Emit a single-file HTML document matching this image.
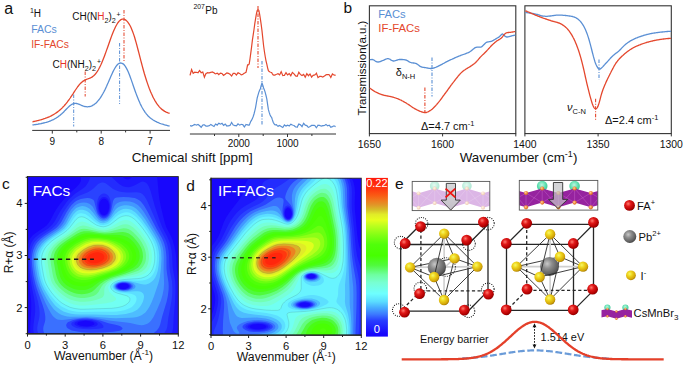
<!DOCTYPE html>
<html><head><meta charset="utf-8"><style>
html,body{margin:0;padding:0;background:#fff;width:685px;height:365px;overflow:hidden}
svg{display:block;font-family:"Liberation Sans", sans-serif}
</style></head><body>
<svg width="685" height="365" viewBox="0 0 685 365">
<text x="4.2" y="13.6" font-size="16" fill="#111" text-anchor="start" >a</text>
<text x="30.0" y="12.6" font-size="7" fill="#111" text-anchor="start" >1</text>
<text x="33.7" y="17.0" font-size="10.0" fill="#111" text-anchor="start" >H</text>
<text x="31.2" y="32.6" font-size="10.5" fill="#5a8fd4" text-anchor="start" >FACs</text>
<text x="31.2" y="48.0" font-size="10.3" fill="#e4472d" text-anchor="start" >IF-FACs</text>
<text x="72.2" y="20.4" font-size="10" fill="#111">CH(N<tspan fill="#e8322a">H</tspan><tspan font-size="7.2" dy="3">2</tspan><tspan dy="-3">)</tspan><tspan font-size="7.2" dy="3">2</tspan><tspan font-size="6.8" dx="0.8" dy="-6.4">+</tspan></text>
<text x="52.5" y="67.8" font-size="10" fill="#111">C<tspan fill="#e8322a">H</tspan>(NH<tspan font-size="7.2" dy="3">2</tspan><tspan dy="-3">)</tspan><tspan font-size="7.2" dy="3">2</tspan><tspan font-size="6.8" dx="0.8" dy="-6.4">+</tspan></text>
<path d="M32.4,124.9 L33.1,124.9 L33.8,124.8 L34.5,124.7 L35.2,124.6 L35.9,124.5 L36.6,124.4 L37.3,124.3 L38.0,124.2 L38.7,124.0 L39.4,123.9 L40.1,123.8 L40.8,123.7 L41.5,123.5 L42.2,123.4 L42.9,123.2 L43.6,123.0 L44.3,122.9 L45.0,122.7 L45.7,122.5 L46.4,122.3 L47.1,122.1 L47.8,121.9 L48.5,121.6 L49.2,121.4 L49.9,121.1 L50.6,120.8 L51.3,120.5 L52.0,120.2 L52.7,119.9 L53.4,119.6 L54.1,119.2 L54.8,118.8 L55.5,118.4 L56.2,118.0 L56.9,117.5 L57.6,117.1 L58.3,116.6 L59.0,116.0 L59.7,115.5 L60.4,114.9 L61.1,114.3 L61.8,113.7 L62.5,113.0 L63.2,112.4 L63.9,111.7 L64.6,110.9 L65.3,110.2 L66.0,109.5 L66.7,108.8 L67.4,108.1 L68.1,107.4 L68.8,106.7 L69.5,106.1 L70.2,105.5 L70.9,105.0 L71.6,104.5 L72.3,104.1 L73.0,103.8 L73.7,103.6 L74.4,103.5 L75.1,103.4 L75.8,103.4 L76.5,103.5 L77.2,103.7 L77.9,103.9 L78.6,104.1 L79.3,104.4 L80.0,104.7 L80.7,105.0 L81.4,105.3 L82.1,105.6 L82.8,105.9 L83.5,106.1 L84.2,106.3 L84.9,106.5 L85.6,106.6 L86.3,106.7 L87.0,106.8 L87.7,106.8 L88.4,106.7 L89.1,106.6 L89.8,106.5 L90.5,106.3 L91.2,106.1 L91.9,105.8 L92.6,105.4 L93.3,105.0 L94.0,104.6 L94.7,104.1 L95.4,103.5 L96.1,102.9 L96.8,102.2 L97.5,101.4 L98.2,100.6 L98.9,99.8 L99.6,98.9 L100.3,97.9 L101.0,96.8 L101.7,95.7 L102.4,94.5 L103.1,93.3 L103.8,92.0 L104.5,90.6 L105.2,89.2 L105.9,87.7 L106.6,86.2 L107.3,84.6 L108.0,83.1 L108.7,81.4 L109.4,79.8 L110.1,78.2 L110.8,76.6 L111.5,75.0 L112.2,73.4 L112.9,71.9 L113.6,70.5 L114.3,69.2 L115.0,68.0 L115.7,66.9 L116.4,65.9 L117.1,65.0 L117.8,64.3 L118.5,63.8 L119.2,63.4 L119.9,63.1 L120.6,63.0 L121.3,63.1 L122.0,63.3 L122.7,63.6 L123.4,64.1 L124.1,64.8 L124.8,65.7 L125.5,66.6 L126.2,67.8 L126.9,69.1 L127.6,70.5 L128.3,72.1 L129.0,73.8 L129.7,75.6 L130.4,77.5 L131.1,79.4 L131.8,81.4 L132.5,83.4 L133.2,85.5 L133.9,87.5 L134.6,89.5 L135.3,91.5 L136.0,93.4 L136.7,95.3 L137.4,97.1 L138.1,98.8 L138.8,100.5 L139.5,102.1 L140.2,103.7 L140.9,105.1 L141.6,106.5 L142.3,107.8 L143.0,109.0 L143.7,110.2 L144.4,111.2 L145.1,112.3 L145.8,113.2 L146.5,114.1 L147.2,114.9 L147.9,115.7 L148.6,116.4 L149.3,117.0 L150.0,117.7 L150.7,118.2 L151.4,118.8 L152.1,119.3 L152.8,119.8 L153.5,120.2 L154.2,120.6 L154.9,121.0 L155.6,121.4 L156.3,121.7 L157.0,122.1 L157.7,122.4 L158.4,122.7 L159.1,123.0 L159.8,123.3 L160.5,123.5 L161.2,123.8 L161.9,124.0 L162.6,124.2 L163.3,124.4 L164.0,124.7 L164.7,124.9 L165.4,125.1 L166.1,125.2 L166.8,125.4 L167.5,125.6 L168.2,125.8 L168.9,125.9 L169.6,126.1" fill="none" stroke="#5a8fd4" stroke-width="1.3"/>
<path d="M32.4,121.8 L33.1,121.7 L33.8,121.5 L34.5,121.4 L35.2,121.2 L35.9,121.1 L36.6,120.9 L37.3,120.7 L38.0,120.6 L38.7,120.4 L39.4,120.2 L40.1,120.0 L40.8,119.8 L41.5,119.6 L42.2,119.4 L42.9,119.2 L43.6,118.9 L44.3,118.7 L45.0,118.5 L45.7,118.2 L46.4,117.9 L47.1,117.7 L47.8,117.4 L48.5,117.1 L49.2,116.8 L49.9,116.5 L50.6,116.1 L51.3,115.8 L52.0,115.4 L52.7,115.0 L53.4,114.6 L54.1,114.2 L54.8,113.8 L55.5,113.3 L56.2,112.9 L56.9,112.4 L57.6,111.9 L58.3,111.3 L59.0,110.8 L59.7,110.2 L60.4,109.6 L61.1,108.9 L61.8,108.3 L62.5,107.6 L63.2,106.8 L63.9,106.1 L64.6,105.3 L65.3,104.5 L66.0,103.7 L66.7,102.8 L67.4,101.9 L68.1,100.9 L68.8,100.0 L69.5,99.0 L70.2,98.0 L70.9,96.9 L71.6,95.9 L72.3,94.8 L73.0,93.8 L73.7,92.7 L74.4,91.6 L75.1,90.5 L75.8,89.5 L76.5,88.5 L77.2,87.5 L77.9,86.5 L78.6,85.6 L79.3,84.7 L80.0,83.9 L80.7,83.2 L81.4,82.5 L82.1,81.9 L82.8,81.4 L83.5,80.9 L84.2,80.5 L84.9,80.1 L85.6,79.8 L86.3,79.5 L87.0,79.2 L87.7,79.0 L88.4,78.7 L89.1,78.5 L89.8,78.2 L90.5,77.9 L91.2,77.5 L91.9,77.1 L92.6,76.6 L93.3,76.1 L94.0,75.5 L94.7,74.8 L95.4,74.0 L96.1,73.1 L96.8,72.2 L97.5,71.1 L98.2,70.0 L98.9,68.7 L99.6,67.4 L100.3,66.0 L101.0,64.5 L101.7,62.9 L102.4,61.2 L103.1,59.5 L103.8,57.7 L104.5,55.9 L105.2,54.0 L105.9,52.1 L106.6,50.1 L107.3,48.2 L108.0,46.2 L108.7,44.2 L109.4,42.2 L110.1,40.2 L110.8,38.3 L111.5,36.4 L112.2,34.6 L112.9,32.8 L113.6,31.1 L114.3,29.5 L115.0,28.0 L115.7,26.5 L116.4,25.2 L117.1,24.0 L117.8,22.9 L118.5,22.0 L119.2,21.1 L119.9,20.5 L120.6,19.9 L121.3,19.5 L122.0,19.2 L122.7,19.1 L123.4,19.1 L124.1,19.2 L124.8,19.5 L125.5,19.9 L126.2,20.5 L126.9,21.1 L127.6,21.9 L128.3,22.8 L129.0,23.8 L129.7,25.0 L130.4,26.3 L131.1,27.8 L131.8,29.4 L132.5,31.2 L133.2,33.1 L133.9,35.1 L134.6,37.3 L135.3,39.7 L136.0,42.1 L136.7,44.7 L137.4,47.3 L138.1,50.0 L138.8,52.7 L139.5,55.4 L140.2,58.1 L140.9,60.9 L141.6,63.5 L142.3,66.2 L143.0,68.7 L143.7,71.2 L144.4,73.7 L145.1,76.0 L145.8,78.3 L146.5,80.5 L147.2,82.6 L147.9,84.6 L148.6,86.6 L149.3,88.5 L150.0,90.2 L150.7,92.0 L151.4,93.6 L152.1,95.1 L152.8,96.6 L153.5,98.0 L154.2,99.3 L154.9,100.6 L155.6,101.7 L156.3,102.8 L157.0,103.9 L157.7,104.8 L158.4,105.7 L159.1,106.6 L159.8,107.4 L160.5,108.1 L161.2,108.7 L161.9,109.4 L162.6,109.9 L163.3,110.4 L164.0,110.9 L164.7,111.4 L165.4,111.7 L166.1,112.1 L166.8,112.4 L167.5,112.7 L168.2,113.0 L168.9,113.2 L169.6,113.4" fill="none" stroke="#e4472d" stroke-width="1.3"/>
<line x1="73.7" y1="94.5" x2="73.7" y2="126.5" stroke="#5a8fd4" stroke-width="1" stroke-dasharray="3.5,1.5,1,1.5"/>
<line x1="119.6" y1="43" x2="119.6" y2="104" stroke="#5a8fd4" stroke-width="1" stroke-dasharray="3.5,1.5,1,1.5"/>
<line x1="85.2" y1="71.5" x2="85.2" y2="96.4" stroke="#e4472d" stroke-width="1.2" opacity="0.85" stroke-dasharray="3.5,1.5,1,1.5"/>
<line x1="124.0" y1="10" x2="124.0" y2="62" stroke="#e4472d" stroke-width="1.2" opacity="0.85" stroke-dasharray="3.5,1.5,1,1.5"/>
<line x1="32.2" y1="130.4" x2="170" y2="130.4" stroke="#333" stroke-width="1"/>
<line x1="52.3" y1="130.4" x2="52.3" y2="133.6" stroke="#333" stroke-width="1"/>
<text x="52.3" y="144.6" font-size="10" fill="#111" text-anchor="middle" >9</text>
<line x1="76.8" y1="130.4" x2="76.8" y2="132.4" stroke="#333" stroke-width="1"/>
<line x1="101.2" y1="130.4" x2="101.2" y2="133.6" stroke="#333" stroke-width="1"/>
<text x="101.2" y="144.6" font-size="10" fill="#111" text-anchor="middle" >8</text>
<line x1="125.6" y1="130.4" x2="125.6" y2="132.4" stroke="#333" stroke-width="1"/>
<line x1="150.1" y1="130.4" x2="150.1" y2="133.6" stroke="#333" stroke-width="1"/>
<text x="150.1" y="144.6" font-size="10" fill="#111" text-anchor="middle" >7</text>
<text x="193.4" y="9.4" font-size="6.8" fill="#111" text-anchor="start" >207</text>
<text x="205.3" y="14.2" font-size="10" fill="#111" text-anchor="start" >Pb</text>
<path d="M190.0,75.4 L190.8,72.5 L191.6,69.6 L192.4,71.5 L193.2,73.4 L194.0,72.8 L194.8,72.2 L195.6,72.3 L196.4,72.4 L197.2,72.5 L198.0,72.7 L198.8,71.6 L199.6,70.5 L200.4,71.6 L201.2,72.7 L202.0,72.4 L202.8,72.0 L203.6,74.6 L204.4,77.2 L205.2,75.3 L206.0,73.4 L206.8,73.1 L207.6,72.7 L208.4,72.8 L209.2,72.8 L210.0,72.6 L210.8,72.4 L211.6,72.2 L212.4,71.9 L213.2,72.4 L214.0,72.8 L214.8,73.4 L215.6,73.9 L216.4,73.5 L217.2,73.1 L218.0,73.8 L218.8,74.6 L219.6,73.9 L220.4,73.2 L221.2,73.3 L222.0,73.5 L222.8,74.5 L223.6,75.4 L224.4,74.8 L225.2,74.2 L226.0,73.6 L226.8,72.9 L227.6,73.1 L228.4,73.4 L229.2,73.8 L230.0,74.3 L230.8,75.2 L231.6,76.1 L232.4,74.7 L233.2,73.4 L234.0,73.4 L234.8,73.4 L235.6,74.2 L236.4,75.0 L237.2,73.8 L238.0,72.7 L238.8,73.1 L239.6,73.4 L240.4,74.1 L241.2,74.8 L242.0,74.6 L242.8,74.3 L243.6,73.7 L244.4,73.1 L245.2,72.8 L246.0,72.3 L246.8,68.8 L247.6,64.8 L248.4,64.8 L249.2,64.0 L250.0,58.8 L250.8,52.8 L251.6,46.8 L252.4,40.1 L253.2,34.8 L254.0,29.5 L254.8,23.6 L255.6,18.6 L256.4,13.8 L257.2,10.6 L258.0,9.6 L258.8,10.3 L259.6,14.0 L260.4,19.1 L261.2,24.6 L262.0,30.9 L262.8,38.4 L263.6,45.8 L264.4,51.5 L265.2,56.5 L266.0,60.8 L266.8,64.2 L267.6,67.8 L268.4,70.7 L269.2,71.6 L270.0,72.0 L270.8,72.3 L271.6,72.5 L272.4,73.8 L273.2,74.9 L274.0,75.1 L274.8,75.2 L275.6,74.7 L276.4,74.3 L277.2,74.0 L278.0,73.6 L278.8,74.3 L279.6,74.9 L280.4,73.2 L281.2,71.6 L282.0,73.6 L282.8,75.6 L283.6,75.5 L284.4,75.4 L285.2,74.0 L286.0,72.7 L286.8,73.8 L287.6,74.9 L288.4,74.3 L289.2,73.6 L290.0,74.7 L290.8,75.8 L291.6,74.1 L292.4,72.4 L293.2,73.1 L294.0,73.8 L294.8,74.8 L295.6,75.9 L296.4,76.2 L297.2,76.4 L298.0,74.4 L298.8,72.3 L299.6,73.4 L300.4,74.4 L301.2,75.0 L302.0,75.5 L302.8,74.9 L303.6,74.4 L304.4,75.8 L305.2,77.2 L306.0,75.4 L306.8,73.7 L307.6,74.7 L308.4,75.7 L309.2,74.8 L310.0,74.0 L310.8,75.5 L311.6,77.1 L312.4,76.2 L313.2,75.3 L314.0,75.1 L314.8,74.9 L315.6,74.1 L316.4,73.2 L317.2,75.4 L318.0,77.5 L318.8,77.0 L319.6,76.4 L320.4,76.4 L321.2,76.4 L322.0,76.7 L322.8,77.0 L323.6,76.5 L324.4,76.0 L325.2,75.4 L326.0,74.8 L326.8,74.7 L327.6,74.6 L328.4,74.6 L329.2,74.7 L330.0,76.0 L330.8,77.4 L331.6,75.7 L332.4,73.9 L333.2,74.5 L334.0,75.0 L334.8,75.2 L335.6,75.4" fill="none" stroke="#e4472d" stroke-width="1.2"/>
<path d="M190.0,125.6 L190.8,125.8 L191.6,126.0 L192.4,125.6 L193.2,125.3 L194.0,124.9 L194.8,124.5 L195.6,124.8 L196.4,125.0 L197.2,124.7 L198.0,124.4 L198.8,125.0 L199.6,125.7 L200.4,126.5 L201.2,127.3 L202.0,126.1 L202.8,125.0 L203.6,124.9 L204.4,124.8 L205.2,125.5 L206.0,126.2 L206.8,126.2 L207.6,126.1 L208.4,125.9 L209.2,125.8 L210.0,125.1 L210.8,124.5 L211.6,125.0 L212.4,125.6 L213.2,126.0 L214.0,126.5 L214.8,125.2 L215.6,124.0 L216.4,124.5 L217.2,125.1 L218.0,124.2 L218.8,123.3 L219.6,123.6 L220.4,124.0 L221.2,123.7 L222.0,123.3 L222.8,124.3 L223.6,125.4 L224.4,124.7 L225.2,124.1 L226.0,125.0 L226.8,126.0 L227.6,125.9 L228.4,125.8 L229.2,125.6 L230.0,125.4 L230.8,124.0 L231.6,122.5 L232.4,123.7 L233.2,125.0 L234.0,125.3 L234.8,125.6 L235.6,125.7 L236.4,125.8 L237.2,124.8 L238.0,123.8 L238.8,124.4 L239.6,125.1 L240.4,124.8 L241.2,124.4 L242.0,124.5 L242.8,124.6 L243.6,125.8 L244.4,126.9 L245.2,125.7 L246.0,124.4 L246.8,124.7 L247.6,124.9 L248.4,125.1 L249.2,125.1 L250.0,123.3 L250.8,121.3 L251.6,120.2 L252.4,118.6 L253.2,116.5 L254.0,114.0 L254.8,110.8 L255.6,107.3 L256.4,102.7 L257.2,98.0 L258.0,95.1 L258.8,92.4 L259.6,90.2 L260.4,88.7 L261.2,85.4 L262.0,83.1 L262.8,85.1 L263.6,88.0 L264.4,89.9 L265.2,92.4 L266.0,95.5 L266.8,98.8 L267.6,104.3 L268.4,109.7 L269.2,112.4 L270.0,114.8 L270.8,116.3 L271.6,117.3 L272.4,119.9 L273.2,122.2 L274.0,123.6 L274.8,124.7 L275.6,124.8 L276.4,124.7 L277.2,125.6 L278.0,126.3 L278.8,125.9 L279.6,125.5 L280.4,126.0 L281.2,126.5 L282.0,127.0 L282.8,127.5 L283.6,126.2 L284.4,124.9 L285.2,125.4 L286.0,126.0 L286.8,125.6 L287.6,125.2 L288.4,125.5 L289.2,125.9 L290.0,125.1 L290.8,124.3 L291.6,124.6 L292.4,125.0 L293.2,125.3 L294.0,125.5 L294.8,126.2 L295.6,126.9 L296.4,127.0 L297.2,127.2 L298.0,125.6 L298.8,124.1 L299.6,124.4 L300.4,124.8 L301.2,125.7 L302.0,126.6 L302.8,124.9 L303.6,123.3 L304.4,124.2 L305.2,125.2 L306.0,125.4 L306.8,125.6 L307.6,126.5 L308.4,127.3 L309.2,127.0 L310.0,126.6 L310.8,126.0 L311.6,125.4 L312.4,125.3 L313.2,125.3 L314.0,125.4 L314.8,125.5 L315.6,126.6 L316.4,127.7 L317.2,126.5 L318.0,125.2 L318.8,125.3 L319.6,125.4 L320.4,125.8 L321.2,126.2 L322.0,125.9 L322.8,125.6 L323.6,125.6 L324.4,125.5 L325.2,125.0 L326.0,124.4 L326.8,125.1 L327.6,125.8 L328.4,125.5 L329.2,125.2 L330.0,126.2 L330.8,127.3 L331.6,126.9 L332.4,126.6 L333.2,126.2 L334.0,125.8 L334.8,126.2 L335.6,126.6" fill="none" stroke="#5a8fd4" stroke-width="1.2"/>
<line x1="258" y1="6" x2="258" y2="68" stroke="#e4472d" stroke-width="1.1" stroke-dasharray="3.5,1.5,1,1.5"/>
<line x1="262" y1="61" x2="262" y2="125" stroke="#5a8fd4" stroke-width="1.1" stroke-dasharray="3.5,1.5,1,1.5"/>
<line x1="189.9" y1="134" x2="336" y2="134" stroke="#333" stroke-width="1"/>
<line x1="214.5" y1="134" x2="214.5" y2="136" stroke="#333" stroke-width="1"/>
<line x1="238.8" y1="134" x2="238.8" y2="137" stroke="#333" stroke-width="1"/>
<text x="238.8" y="147.3" font-size="10" fill="#111" text-anchor="middle" >2000</text>
<line x1="263.2" y1="134" x2="263.2" y2="136" stroke="#333" stroke-width="1"/>
<line x1="287.5" y1="134" x2="287.5" y2="137" stroke="#333" stroke-width="1"/>
<text x="287.5" y="147.3" font-size="10" fill="#111" text-anchor="middle" >1000</text>
<line x1="311.9" y1="134" x2="311.9" y2="136" stroke="#333" stroke-width="1"/>
<text x="131.8" y="162.3" font-size="13.4" fill="#111" textLength="121" lengthAdjust="spacingAndGlyphs">Chemical shift [ppm]</text>
<text x="343.6" y="13.3" font-size="15.5" fill="#111" text-anchor="start" >b</text>
<rect x="369.4" y="5.8" width="146.4" height="127.8" fill="none" stroke="#333" stroke-width="1.1"/>
<rect x="524.9" y="5.8" width="146.4" height="127.8" fill="none" stroke="#333" stroke-width="1.1"/>
<text x="378.3" y="18.1" font-size="10.9" fill="#5a8fd4" textLength="27.4" lengthAdjust="spacingAndGlyphs">FACs</text>
<text x="378.3" y="32.0" font-size="10.9" fill="#e4472d" textLength="41.6" lengthAdjust="spacingAndGlyphs">IF-FACs</text>
<text transform="translate(365.6,68.0) rotate(-90)" font-size="11.5" fill="#111" text-anchor="middle">Transmission(a.u.)</text>
<path d="M369.8,59.8 L370.3,59.7 L370.8,59.6 L371.3,59.6 L371.8,59.5 L372.3,59.5 L372.8,59.6 L373.3,59.8 L373.8,60.0 L374.3,60.3 L374.8,60.7 L375.3,61.0 L375.8,61.4 L376.3,61.6 L376.8,61.8 L377.3,61.9 L377.8,62.0 L378.3,62.0 L378.8,61.9 L379.3,61.8 L379.8,61.6 L380.3,61.5 L380.8,61.3 L381.3,61.1 L381.8,60.9 L382.3,60.7 L382.8,60.5 L383.3,60.3 L383.8,60.1 L384.3,59.9 L384.8,59.6 L385.3,59.4 L385.8,59.2 L386.3,59.0 L386.8,58.8 L387.3,58.7 L387.8,58.7 L388.3,58.7 L388.8,58.8 L389.3,59.0 L389.8,59.2 L390.3,59.5 L390.8,59.9 L391.3,60.2 L391.8,60.5 L392.3,60.7 L392.8,60.9 L393.3,61.0 L393.8,61.0 L394.3,60.9 L394.8,60.8 L395.3,60.7 L395.8,60.5 L396.3,60.3 L396.8,60.1 L397.3,60.0 L397.8,59.8 L398.3,59.7 L398.8,59.6 L399.3,59.5 L399.8,59.5 L400.3,59.5 L400.8,59.5 L401.3,59.5 L401.8,59.5 L402.3,59.5 L402.8,59.6 L403.3,59.6 L403.8,59.7 L404.3,59.7 L404.8,59.8 L405.3,59.9 L405.8,60.0 L406.3,60.2 L406.8,60.4 L407.3,60.7 L407.8,60.9 L408.3,61.2 L408.8,61.6 L409.3,61.8 L409.8,62.1 L410.3,62.3 L410.8,62.5 L411.3,62.7 L411.8,62.8 L412.3,62.9 L412.8,62.9 L413.3,63.0 L413.8,63.0 L414.3,63.1 L414.8,63.2 L415.3,63.3 L415.8,63.4 L416.3,63.6 L416.8,63.9 L417.3,64.2 L417.8,64.5 L418.3,64.9 L418.8,65.3 L419.3,65.7 L419.8,66.1 L420.3,66.4 L420.8,66.7 L421.3,66.9 L421.8,67.1 L422.3,67.2 L422.8,67.3 L423.3,67.3 L423.8,67.4 L424.3,67.5 L424.8,67.6 L425.3,67.6 L425.8,67.7 L426.3,67.8 L426.8,67.9 L427.3,68.0 L427.8,68.1 L428.3,68.2 L428.8,68.3 L429.3,68.4 L429.8,68.4 L430.3,68.5 L430.8,68.5 L431.3,68.5 L431.8,68.5 L432.3,68.4 L432.8,68.3 L433.3,68.2 L433.8,68.0 L434.3,67.9 L434.8,67.7 L435.3,67.5 L435.8,67.3 L436.3,67.0 L436.8,66.8 L437.3,66.6 L437.8,66.4 L438.3,66.1 L438.8,65.9 L439.3,65.7 L439.8,65.4 L440.3,65.2 L440.8,64.9 L441.3,64.6 L441.8,64.4 L442.3,64.1 L442.8,63.8 L443.3,63.5 L443.8,63.3 L444.3,63.0 L444.8,62.7 L445.3,62.4 L445.8,62.2 L446.3,61.9 L446.8,61.7 L447.3,61.4 L447.8,61.2 L448.3,60.9 L448.8,60.7 L449.3,60.4 L449.8,60.2 L450.3,60.0 L450.8,59.7 L451.3,59.5 L451.8,59.3 L452.3,59.0 L452.8,58.8 L453.3,58.6 L453.8,58.4 L454.3,58.1 L454.8,57.9 L455.3,57.7 L455.8,57.5 L456.3,57.2 L456.8,57.0 L457.3,56.8 L457.8,56.6 L458.3,56.4 L458.8,56.2 L459.3,56.0 L459.8,55.8 L460.3,55.6 L460.8,55.4 L461.3,55.2 L461.8,55.0 L462.3,54.8 L462.8,54.7 L463.3,54.5 L463.8,54.3 L464.3,54.2 L464.8,54.0 L465.3,53.8 L465.8,53.6 L466.3,53.4 L466.8,53.2 L467.3,53.0 L467.8,52.8 L468.3,52.6 L468.8,52.4 L469.3,52.1 L469.8,51.8 L470.3,51.5 L470.8,51.1 L471.3,50.8 L471.8,50.3 L472.3,49.9 L472.8,49.5 L473.3,49.1 L473.8,48.7 L474.3,48.3 L474.8,47.9 L475.3,47.7 L475.8,47.4 L476.3,47.3 L476.8,47.2 L477.3,47.1 L477.8,47.1 L478.3,47.2 L478.8,47.2 L479.3,47.2 L479.8,47.2 L480.3,47.2 L480.8,47.1 L481.3,46.9 L481.8,46.6 L482.3,46.2 L482.8,45.8 L483.3,45.2 L483.8,44.7 L484.3,44.2 L484.8,43.7 L485.3,43.2 L485.8,42.8 L486.3,42.5 L486.8,42.2 L487.3,42.1 L487.8,41.9 L488.3,41.9 L488.8,41.8 L489.3,41.7 L489.8,41.6 L490.3,41.6 L490.8,41.4 L491.3,41.3 L491.8,41.1 L492.3,40.9 L492.8,40.6 L493.3,40.4 L493.8,40.1 L494.3,39.8 L494.8,39.5 L495.3,39.2 L495.8,38.9 L496.3,38.6 L496.8,38.3 L497.3,38.0 L497.8,37.7 L498.3,37.4 L498.8,37.1 L499.3,36.7 L499.8,36.3 L500.3,35.8 L500.8,35.2 L501.3,34.7 L501.8,34.3 L502.3,34.0 L502.8,34.1 L503.3,34.4 L503.8,34.9 L504.3,35.4 L504.8,36.0 L505.3,36.4 L505.8,36.7 L506.3,36.9 L506.8,37.0 L507.3,37.0 L507.8,36.9 L508.3,36.8 L508.8,36.7 L509.3,36.6 L509.8,36.4 L510.3,36.3 L510.8,36.1 L511.3,36.0 L511.8,35.9 L512.3,35.7 L512.8,35.6 L513.3,35.5 L513.8,35.4 L514.3,35.3 L514.8,35.2 L515.3,35.1" fill="none" stroke="#5a8fd4" stroke-width="1.3"/>
<path d="M369.6,88.2 L370.1,88.4 L370.6,88.7 L371.1,89.0 L371.6,89.4 L372.1,89.7 L372.6,90.1 L373.1,90.4 L373.6,90.8 L374.1,91.1 L374.6,91.4 L375.1,91.7 L375.6,92.0 L376.1,92.2 L376.6,92.5 L377.1,92.7 L377.6,92.9 L378.1,93.2 L378.6,93.4 L379.1,93.6 L379.6,93.8 L380.1,94.0 L380.6,94.2 L381.1,94.4 L381.6,94.6 L382.1,94.7 L382.6,94.9 L383.1,95.0 L383.6,95.2 L384.1,95.3 L384.6,95.4 L385.1,95.5 L385.6,95.6 L386.1,95.7 L386.6,95.8 L387.1,95.9 L387.6,96.0 L388.1,96.1 L388.6,96.2 L389.1,96.3 L389.6,96.4 L390.1,96.4 L390.6,96.6 L391.1,96.7 L391.6,96.8 L392.1,96.9 L392.6,97.1 L393.1,97.2 L393.6,97.3 L394.1,97.5 L394.6,97.7 L395.1,97.8 L395.6,98.0 L396.1,98.2 L396.6,98.3 L397.1,98.5 L397.6,98.7 L398.1,98.9 L398.6,99.1 L399.1,99.3 L399.6,99.5 L400.1,99.8 L400.6,100.0 L401.1,100.2 L401.6,100.5 L402.1,100.8 L402.6,101.0 L403.1,101.3 L403.6,101.6 L404.1,101.9 L404.6,102.2 L405.1,102.5 L405.6,102.7 L406.1,103.0 L406.6,103.3 L407.1,103.7 L407.6,104.0 L408.1,104.3 L408.6,104.6 L409.1,104.9 L409.6,105.3 L410.1,105.6 L410.6,106.0 L411.1,106.3 L411.6,106.7 L412.1,107.0 L412.6,107.4 L413.1,107.7 L413.6,108.0 L414.1,108.3 L414.6,108.6 L415.1,108.9 L415.6,109.2 L416.1,109.4 L416.6,109.7 L417.1,110.0 L417.6,110.2 L418.1,110.4 L418.6,110.7 L419.1,110.9 L419.6,111.1 L420.1,111.3 L420.6,111.5 L421.1,111.7 L421.6,111.9 L422.1,112.0 L422.6,112.2 L423.1,112.3 L423.6,112.4 L424.1,112.5 L424.6,112.5 L425.1,112.6 L425.6,112.5 L426.1,112.5 L426.6,112.3 L427.1,112.2 L427.6,112.0 L428.1,111.8 L428.6,111.5 L429.1,111.2 L429.6,110.9 L430.1,110.6 L430.6,110.3 L431.1,110.0 L431.6,109.6 L432.1,109.2 L432.6,108.7 L433.1,108.3 L433.6,107.8 L434.1,107.3 L434.6,106.8 L435.1,106.2 L435.6,105.7 L436.1,105.1 L436.6,104.6 L437.1,104.0 L437.6,103.4 L438.1,102.8 L438.6,102.2 L439.1,101.6 L439.6,100.9 L440.1,100.3 L440.6,99.6 L441.1,99.0 L441.6,98.3 L442.1,97.6 L442.6,96.9 L443.1,96.2 L443.6,95.5 L444.1,94.9 L444.6,94.2 L445.1,93.5 L445.6,92.8 L446.1,92.1 L446.6,91.5 L447.1,90.8 L447.6,90.1 L448.1,89.4 L448.6,88.7 L449.1,88.0 L449.6,87.3 L450.1,86.6 L450.6,85.9 L451.1,85.2 L451.6,84.6 L452.1,83.9 L452.6,83.2 L453.1,82.6 L453.6,81.9 L454.1,81.3 L454.6,80.6 L455.1,80.0 L455.6,79.4 L456.1,78.7 L456.6,78.1 L457.1,77.5 L457.6,76.9 L458.1,76.2 L458.6,75.6 L459.1,75.0 L459.6,74.5 L460.1,73.9 L460.6,73.4 L461.1,72.9 L461.6,72.4 L462.1,71.9 L462.6,71.5 L463.1,71.1 L463.6,70.7 L464.1,70.3 L464.6,70.0 L465.1,69.7 L465.6,69.3 L466.1,69.0 L466.6,68.7 L467.1,68.4 L467.6,68.1 L468.1,67.8 L468.6,67.5 L469.1,67.2 L469.6,66.9 L470.1,66.6 L470.6,66.2 L471.1,65.9 L471.6,65.6 L472.1,65.2 L472.6,64.9 L473.1,64.5 L473.6,64.1 L474.1,63.8 L474.6,63.4 L475.1,62.9 L475.6,62.5 L476.1,62.0 L476.6,61.5 L477.1,60.9 L477.6,60.4 L478.1,59.8 L478.6,59.2 L479.1,58.6 L479.6,58.0 L480.1,57.4 L480.6,56.9 L481.1,56.4 L481.6,55.9 L482.1,55.4 L482.6,54.9 L483.1,54.4 L483.6,54.0 L484.1,53.5 L484.6,53.0 L485.1,52.5 L485.6,52.0 L486.1,51.5 L486.6,51.0 L487.1,50.4 L487.6,49.9 L488.1,49.3 L488.6,48.7 L489.1,48.2 L489.6,47.6 L490.1,47.1 L490.6,46.5 L491.1,46.0 L491.6,45.5 L492.1,45.0 L492.6,44.6 L493.1,44.1 L493.6,43.6 L494.1,43.2 L494.6,42.7 L495.1,42.3 L495.6,41.9 L496.1,41.5 L496.6,41.1 L497.1,40.8 L497.6,40.5 L498.1,40.2 L498.6,39.9 L499.1,39.6 L499.6,39.3 L500.1,39.0 L500.6,38.6 L501.1,38.2 L501.6,37.7 L502.1,37.2 L502.6,36.6 L503.1,35.9 L503.6,35.3 L504.1,34.7 L504.6,34.1 L505.1,33.7 L505.6,33.3 L506.1,33.0 L506.6,32.8 L507.1,32.7 L507.6,32.6 L508.1,32.5 L508.6,32.5 L509.1,32.4 L509.6,32.4 L510.1,32.3 L510.6,32.3 L511.1,32.2 L511.6,32.2 L512.1,32.1 L512.6,32.0 L513.1,31.9 L513.6,31.8 L514.1,31.7 L514.6,31.7 L515.1,31.6" fill="none" stroke="#e4472d" stroke-width="1.3"/>
<line x1="432.0" y1="57.4" x2="432.0" y2="96.4" stroke="#5a8fd4" stroke-width="1.1" stroke-dasharray="3.5,1.5,1,1.5"/>
<line x1="424.9" y1="87.4" x2="424.9" y2="112" stroke="#e4472d" stroke-width="1.1" stroke-dasharray="3.5,1.5,1,1.5"/>
<text x="395.8" y="76.2" font-size="11" fill="#111">δ<tspan font-size="7.5" dy="2.8">N-H</tspan></text>
<text x="421" y="130" font-size="11" fill="#111">Δ=4.7 cm<tspan font-size="7.5" dy="-4.5">-1</tspan></text>
<path d="M525.4,12.4 L525.9,12.5 L526.4,12.5 L526.9,12.6 L527.4,12.7 L527.9,12.8 L528.4,12.8 L528.9,12.9 L529.4,13.0 L529.9,13.0 L530.4,13.1 L530.9,13.2 L531.4,13.3 L531.9,13.3 L532.4,13.4 L532.9,13.5 L533.4,13.6 L533.9,13.7 L534.4,13.9 L534.9,14.0 L535.4,14.1 L535.9,14.2 L536.4,14.3 L536.9,14.4 L537.4,14.5 L537.9,14.6 L538.4,14.8 L538.9,14.9 L539.4,15.1 L539.9,15.3 L540.4,15.5 L540.9,15.6 L541.4,15.8 L541.9,15.9 L542.4,16.0 L542.9,16.1 L543.4,16.1 L543.9,16.2 L544.4,16.2 L544.9,16.2 L545.4,16.3 L545.9,16.3 L546.4,16.3 L546.9,16.3 L547.4,16.3 L547.9,16.2 L548.4,16.2 L548.9,16.2 L549.4,16.1 L549.9,16.0 L550.4,16.0 L550.9,15.9 L551.4,15.9 L551.9,15.8 L552.4,15.7 L552.9,15.6 L553.4,15.6 L553.9,15.5 L554.4,15.4 L554.9,15.3 L555.4,15.3 L555.9,15.2 L556.4,15.2 L556.9,15.2 L557.4,15.2 L557.9,15.2 L558.4,15.2 L558.9,15.2 L559.4,15.2 L559.9,15.2 L560.4,15.2 L560.9,15.2 L561.4,15.2 L561.9,15.2 L562.4,15.2 L562.9,15.3 L563.4,15.3 L563.9,15.3 L564.4,15.4 L564.9,15.4 L565.4,15.5 L565.9,15.5 L566.4,15.6 L566.9,15.7 L567.4,15.7 L567.9,15.8 L568.4,15.9 L568.9,15.9 L569.4,16.0 L569.9,16.1 L570.4,16.2 L570.9,16.2 L571.4,16.3 L571.9,16.4 L572.4,16.5 L572.9,16.7 L573.4,16.8 L573.9,16.9 L574.4,17.1 L574.9,17.3 L575.4,17.5 L575.9,17.8 L576.4,18.1 L576.9,18.4 L577.4,18.7 L577.9,19.1 L578.4,19.5 L578.9,19.9 L579.4,20.4 L579.9,20.9 L580.4,21.4 L580.9,22.0 L581.4,22.6 L581.9,23.3 L582.4,24.0 L582.9,24.8 L583.4,25.6 L583.9,26.5 L584.4,27.5 L584.9,28.5 L585.4,29.6 L585.9,30.7 L586.4,31.9 L586.9,33.2 L587.4,34.6 L587.9,36.1 L588.4,37.6 L588.9,39.3 L589.4,41.0 L589.9,42.8 L590.4,44.7 L590.9,46.6 L591.4,48.5 L591.9,50.5 L592.4,52.5 L592.9,54.4 L593.4,56.4 L593.9,58.2 L594.4,59.9 L594.9,61.5 L595.4,62.9 L595.9,64.2 L596.4,65.3 L596.9,66.4 L597.4,67.2 L597.9,68.0 L598.4,68.5 L598.9,68.9 L599.4,69.1 L599.9,69.1 L600.4,68.9 L600.9,68.5 L601.4,68.1 L601.9,67.6 L602.4,67.1 L602.9,66.6 L603.4,66.0 L603.9,65.5 L604.4,64.9 L604.9,64.4 L605.4,63.8 L605.9,63.3 L606.4,62.7 L606.9,62.2 L607.4,61.6 L607.9,61.1 L608.4,60.5 L608.9,60.0 L609.4,59.4 L609.9,58.9 L610.4,58.3 L610.9,57.8 L611.4,57.3 L611.9,56.7 L612.4,56.2 L612.9,55.8 L613.4,55.3 L613.9,54.9 L614.4,54.5 L614.9,54.1 L615.4,53.7 L615.9,53.3 L616.4,52.9 L616.9,52.6 L617.4,52.2 L617.9,51.8 L618.4,51.4 L618.9,50.9 L619.4,50.5 L619.9,50.0 L620.4,49.5 L620.9,49.0 L621.4,48.4 L621.9,47.9 L622.4,47.4 L622.9,46.9 L623.4,46.4 L623.9,45.9 L624.4,45.4 L624.9,44.9 L625.4,44.5 L625.9,44.1 L626.4,43.7 L626.9,43.3 L627.4,43.0 L627.9,42.6 L628.4,42.2 L628.9,41.9 L629.4,41.6 L629.9,41.2 L630.4,40.9 L630.9,40.6 L631.4,40.4 L631.9,40.1 L632.4,39.8 L632.9,39.6 L633.4,39.3 L633.9,39.1 L634.4,38.8 L634.9,38.6 L635.4,38.4 L635.9,38.2 L636.4,38.0 L636.9,37.8 L637.4,37.6 L637.9,37.4 L638.4,37.2 L638.9,37.0 L639.4,36.8 L639.9,36.6 L640.4,36.5 L640.9,36.3 L641.4,36.1 L641.9,36.0 L642.4,35.8 L642.9,35.7 L643.4,35.5 L643.9,35.4 L644.4,35.2 L644.9,35.1 L645.4,34.9 L645.9,34.8 L646.4,34.7 L646.9,34.5 L647.4,34.4 L647.9,34.3 L648.4,34.2 L648.9,34.1 L649.4,33.9 L649.9,33.8 L650.4,33.7 L650.9,33.6 L651.4,33.5 L651.9,33.4 L652.4,33.3 L652.9,33.2 L653.4,33.2 L653.9,33.1 L654.4,33.0 L654.9,32.9 L655.4,32.8 L655.9,32.8 L656.4,32.7 L656.9,32.6 L657.4,32.6 L657.9,32.5 L658.4,32.4 L658.9,32.4 L659.4,32.3 L659.9,32.2 L660.4,32.2 L660.9,32.1 L661.4,32.1 L661.9,32.0 L662.4,32.0 L662.9,31.9 L663.4,31.9 L663.9,31.8 L664.4,31.8 L664.9,31.7 L665.4,31.7 L665.9,31.6 L666.4,31.6 L666.9,31.5 L667.4,31.5 L667.9,31.4 L668.4,31.4 L668.9,31.4 L669.4,31.3 L669.9,31.3 L670.4,31.3 L670.9,31.2" fill="none" stroke="#5a8fd4" stroke-width="1.3"/>
<path d="M525.4,10.8 L525.9,11.0 L526.4,11.1 L526.9,11.3 L527.4,11.6 L527.9,11.8 L528.4,12.0 L528.9,12.2 L529.4,12.5 L529.9,12.7 L530.4,12.9 L530.9,13.2 L531.4,13.4 L531.9,13.6 L532.4,13.8 L532.9,14.0 L533.4,14.2 L533.9,14.5 L534.4,14.7 L534.9,14.9 L535.4,15.1 L535.9,15.3 L536.4,15.5 L536.9,15.7 L537.4,15.9 L537.9,16.1 L538.4,16.3 L538.9,16.5 L539.4,16.7 L539.9,16.9 L540.4,17.1 L540.9,17.2 L541.4,17.4 L541.9,17.6 L542.4,17.8 L542.9,18.0 L543.4,18.2 L543.9,18.3 L544.4,18.5 L544.9,18.7 L545.4,18.9 L545.9,19.0 L546.4,19.2 L546.9,19.4 L547.4,19.6 L547.9,19.7 L548.4,19.9 L548.9,20.1 L549.4,20.2 L549.9,20.4 L550.4,20.5 L550.9,20.7 L551.4,20.8 L551.9,21.0 L552.4,21.1 L552.9,21.3 L553.4,21.4 L553.9,21.5 L554.4,21.7 L554.9,21.8 L555.4,21.9 L555.9,22.1 L556.4,22.2 L556.9,22.4 L557.4,22.5 L557.9,22.7 L558.4,22.9 L558.9,23.0 L559.4,23.2 L559.9,23.4 L560.4,23.7 L560.9,23.9 L561.4,24.2 L561.9,24.4 L562.4,24.7 L562.9,25.1 L563.4,25.4 L563.9,25.8 L564.4,26.1 L564.9,26.6 L565.4,27.0 L565.9,27.4 L566.4,27.9 L566.9,28.4 L567.4,28.9 L567.9,29.5 L568.4,30.1 L568.9,30.7 L569.4,31.4 L569.9,32.1 L570.4,32.8 L570.9,33.6 L571.4,34.4 L571.9,35.2 L572.4,36.1 L572.9,37.0 L573.4,38.0 L573.9,38.9 L574.4,40.0 L574.9,41.1 L575.4,42.2 L575.9,43.4 L576.4,44.6 L576.9,45.9 L577.4,47.2 L577.9,48.6 L578.4,50.0 L578.9,51.5 L579.4,53.1 L579.9,54.7 L580.4,56.4 L580.9,58.2 L581.4,60.0 L581.9,61.9 L582.4,63.9 L582.9,65.9 L583.4,68.0 L583.9,70.2 L584.4,72.4 L584.9,74.7 L585.4,77.0 L585.9,79.2 L586.4,81.4 L586.9,83.6 L587.4,85.7 L587.9,87.7 L588.4,89.7 L588.9,91.7 L589.4,93.7 L589.9,95.6 L590.4,97.4 L590.9,99.2 L591.4,100.9 L591.9,102.5 L592.4,104.0 L592.9,105.3 L593.4,106.4 L593.9,107.3 L594.4,108.1 L594.9,108.6 L595.4,108.9 L595.9,108.9 L596.4,108.6 L596.9,108.1 L597.4,107.4 L597.9,106.4 L598.4,105.1 L598.9,103.6 L599.4,101.9 L599.9,100.1 L600.4,98.1 L600.9,96.2 L601.4,94.4 L601.9,92.7 L602.4,91.2 L602.9,89.8 L603.4,88.4 L603.9,87.2 L604.4,86.0 L604.9,84.8 L605.4,83.7 L605.9,82.5 L606.4,81.4 L606.9,80.4 L607.4,79.3 L607.9,78.2 L608.4,77.2 L608.9,76.2 L609.4,75.2 L609.9,74.2 L610.4,73.2 L610.9,72.3 L611.4,71.3 L611.9,70.3 L612.4,69.4 L612.9,68.4 L613.4,67.5 L613.9,66.5 L614.4,65.7 L614.9,64.8 L615.4,64.0 L615.9,63.2 L616.4,62.5 L616.9,61.8 L617.4,61.2 L617.9,60.5 L618.4,59.9 L618.9,59.4 L619.4,58.8 L619.9,58.3 L620.4,57.8 L620.9,57.3 L621.4,56.8 L621.9,56.3 L622.4,55.8 L622.9,55.4 L623.4,54.9 L623.9,54.5 L624.4,54.1 L624.9,53.6 L625.4,53.2 L625.9,52.8 L626.4,52.4 L626.9,52.0 L627.4,51.6 L627.9,51.2 L628.4,50.9 L628.9,50.5 L629.4,50.2 L629.9,49.8 L630.4,49.5 L630.9,49.2 L631.4,48.9 L631.9,48.6 L632.4,48.3 L632.9,48.0 L633.4,47.7 L633.9,47.5 L634.4,47.2 L634.9,47.0 L635.4,46.7 L635.9,46.5 L636.4,46.2 L636.9,46.0 L637.4,45.8 L637.9,45.6 L638.4,45.4 L638.9,45.2 L639.4,45.0 L639.9,44.8 L640.4,44.6 L640.9,44.4 L641.4,44.2 L641.9,44.0 L642.4,43.8 L642.9,43.7 L643.4,43.5 L643.9,43.3 L644.4,43.2 L644.9,43.0 L645.4,42.8 L645.9,42.7 L646.4,42.5 L646.9,42.4 L647.4,42.2 L647.9,42.1 L648.4,42.0 L648.9,41.8 L649.4,41.7 L649.9,41.6 L650.4,41.4 L650.9,41.3 L651.4,41.2 L651.9,41.1 L652.4,41.0 L652.9,40.9 L653.4,40.7 L653.9,40.6 L654.4,40.5 L654.9,40.4 L655.4,40.3 L655.9,40.2 L656.4,40.1 L656.9,40.0 L657.4,39.9 L657.9,39.8 L658.4,39.8 L658.9,39.7 L659.4,39.6 L659.9,39.5 L660.4,39.4 L660.9,39.4 L661.4,39.3 L661.9,39.2 L662.4,39.2 L662.9,39.1 L663.4,39.0 L663.9,39.0 L664.4,38.9 L664.9,38.8 L665.4,38.8 L665.9,38.7 L666.4,38.7 L666.9,38.6 L667.4,38.6 L667.9,38.5 L668.4,38.5 L668.9,38.5 L669.4,38.4 L669.9,38.4 L670.4,38.4 L670.9,38.3" fill="none" stroke="#e4472d" stroke-width="1.3"/>
<line x1="599" y1="59.4" x2="599" y2="79.8" stroke="#5a8fd4" stroke-width="1.1" stroke-dasharray="3.5,1.5,1,1.5"/>
<line x1="595.6" y1="98.7" x2="595.6" y2="120" stroke="#e4472d" stroke-width="1.1" stroke-dasharray="3.5,1.5,1,1.5"/>
<text x="567" y="111.3" font-size="11" font-style="italic" fill="#111">ν<tspan font-size="7.5" font-style="normal" dy="3">C-N</tspan></text>
<text x="605" y="124" font-size="11" fill="#111">Δ=2.4 cm<tspan font-size="7.5" dy="-4.5">-1</tspan></text>
<text x="369.4" y="148.2" font-size="10.4" fill="#111" text-anchor="middle" >1650</text>
<text x="442.6" y="148.2" font-size="10.4" fill="#111" text-anchor="middle" >1600</text>
<text x="524.9" y="148.2" font-size="10.4" fill="#111" text-anchor="middle" >1400</text>
<text x="598.1" y="148.2" font-size="10.4" fill="#111" text-anchor="middle" >1350</text>
<text x="671.3" y="148.2" font-size="10.4" fill="#111" text-anchor="middle" >1300</text>
<line x1="369.4" y1="133.6" x2="369.4" y2="136.4" stroke="#333" stroke-width="1"/>
<line x1="442.6" y1="133.6" x2="442.6" y2="136.4" stroke="#333" stroke-width="1"/>
<line x1="515.8" y1="133.6" x2="515.8" y2="136.4" stroke="#333" stroke-width="1"/>
<line x1="524.9" y1="133.6" x2="524.9" y2="136.4" stroke="#333" stroke-width="1"/>
<line x1="598.1" y1="133.6" x2="598.1" y2="136.4" stroke="#333" stroke-width="1"/>
<line x1="671.3" y1="133.6" x2="671.3" y2="136.4" stroke="#333" stroke-width="1"/>
<text x="459.7" y="161.8" font-size="13.4" fill="#111">Wavenumber (cm<tspan font-size="9" dy="-5">-1</tspan><tspan dy="5">)</tspan></text>
<g><rect x="27.5" y="176.6" width="150.8" height="156.8" fill="#1807fc"/>
<path fill-rule="evenodd" fill="#1d18fd" d="M80.8,176.6l41.5,0l1.2,1.2l1.5,1l2.2,0.6l1.6,-0.1l1.1,-0.5l1.2,-0.7l1.6,-1.5l24.3,0l0.5,3.7l1.1,12.8l0.9,6.6l1.5,7.6l2.9,12l1,3.8l1.3,3.8l1.4,2.9l3.5,6.8l1.6,3.7l1.7,6.1l1.4,7.4l0.4,3.8l0.5,9.8l1,9.7l0.4,6.7l0.1,49.6l-147.8,0l-0.2,-3l0,-4.6l1,-15.7l0,-7.5l-0.6,-6.8l-2.3,-18.7l-0.8,-9.5l0,-20l0.4,-2.8l0.8,-3l0.9,-2.2l0.8,-1.5l2.4,-2.8l3,-2.3l8.1,-5.4l2.7,-2.2l2,-2.3l2,-3l3,-6l2.1,-3.8l1.9,-2.9l2.8,-3.8l3.8,-4.5l3.8,-4.2l3,-2.9l5.6,-4.9l2.7,-3l1.3,-2.3l0.4,-1.4l-0.1,-2.3l-0.6,-1.5l0.5,0zM102.5,199.1l-1.5,1.2l-0.8,1.1l-0.6,1.4l-0.5,2.3l-0.1,3l0.7,3l1.3,2.3l1.5,1.3l1.5,0.3l1.5,-0.3l0.7,-0.5l0.9,-0.8l0.9,-1.6l1,-3l0.1,-1.5l0,-2.2l-0.8,-3l-0.5,-1l-1.1,-1.3l-1.2,-0.8l-0.7,-0.3l-1.6,0.1l-0.7,0.3zM120.7,283.8l-1.7,0.8l-0.8,0.8l-0.2,0.7l0.1,0.7l0.5,0.8l1.3,0.8l1.3,0.4l1.6,0.1l3,-0.2l1.4,-0.6l0.9,-0.5l0.6,-0.8l0.1,-0.7l-0.3,-0.7l-0.7,-0.8l-1.7,-0.8l-2.6,-0.3l-2.8,0.3zM80.7,321.4l-2.1,0.7l-1,0.7l-0.3,0.8l0.3,0.8l1,0.7l2.2,0.7l1.4,0.3l4.6,0.3l3.7,-0.4l2.7,-0.9l1,-0.7l0.2,-0.8l-0.4,-0.8l-1.1,-0.7l-3.1,-0.9l-4.6,-0.4l-4.5,0.6z"/>
<path fill-rule="evenodd" fill="#232cfe" d="M90.5,176.6l20.5,0l2,1.6l4.3,4.4l2.5,2l3,1.6l3,0.8l3,0.2l3,-0.7l3,-1.2l5.2,-2.9l1.5,-0.6l1.5,-0.2l1.5,0.3l1.5,0.8l1.5,1.5l1.3,2.2l1.7,4.4l4.4,15.8l4.8,14.2l2.8,7l4.7,8.8l1.7,3.8l1.5,4.4l1.1,5.3l0.6,5.3l0.5,11.2l0.4,3l2.1,11.2l0.3,3.8l0.1,5.2l-0.3,9.8l-1.6,18.8l-0.4,9l-0.6,3.7l-0.9,2.3l-137.8,0l-0.6,-3l0,-3l0.2,-3l1.5,-10.6l0.2,-3.7l-0.1,-4.5l-0.9,-6.8l-2.6,-12.7l-1.3,-7.5l-1.1,-9l-0.6,-8.2l0,-4.6l0.3,-4.4l0.6,-3.8l1,-3.8l1,-2.2l1.3,-2.1l1.2,-1.7l1.8,-1.8l3.7,-2.9l8.7,-5.7l1.9,-1.6l2.3,-2.2l2.7,-3.8l3.6,-6.7l2.7,-4.5l5.3,-7.5l2.8,-3.3l3,-2.9l3,-2.3l7.4,-5l2.5,-2.2l1.3,-1.6l1.4,-2.2l1,-2.2l1.4,-3.8zM101.8,197.6l-1.6,1.5l-0.9,1.5l-0.6,1.5l-0.5,3l0.1,3.7l0.9,3l0.7,1.6l1.1,1.3l1.5,1.1l0.7,0.2l1.6,0l1.4,-0.7l0.8,-0.7l1,-1.2l0.8,-1.6l0.8,-2.2l0.2,-1.5l0.1,-2.3l-0.2,-2.2l-0.9,-3l-0.8,-1.5l-1,-1.1l-0.8,-0.5l-1.4,-0.6l-1.6,0l-1.4,0.7zM119.5,283.8l-1.3,0.8l-0.7,0.8l-0.2,0.7l0.1,0.7l0.5,0.8l0.9,0.8l1.7,0.6l3,0.4l2.4,-0.3l2.1,-0.8l1,-0.7l0.5,-0.8l0.2,-0.7l-0.3,-0.7l-0.6,-0.8l-2.3,-1.1l-1.5,-0.3l-2.2,-0.1l-1.6,0.2l-1.7,0.5zM79.9,320.6l-2.9,0.8l-1.4,0.7l-0.8,0.7l-0.3,0.8l0.1,0.8l0.6,0.7l1.8,1l3,0.9l3.8,0.5l3.7,0l4.5,-0.4l3,-0.7l1.5,-0.6l0.8,-0.7l0.4,-0.7l-0.1,-0.8l-0.6,-0.8l-1,-0.7l-1.7,-0.7l-2.9,-0.8l-5.4,-0.5l-3,0.1l-3.1,0.4z"/>
<path fill-rule="evenodd" fill="#2a43ff" d="M101.8,182.5l1.6,0.1l2.1,0.7l1.5,1l6,4.6l2.4,1.2l2.8,1.1l3.8,0.9l4.5,0.5l3,0l6.7,-0.3l2.3,0.1l2.3,0.7l2.1,1.5l1.9,2.2l2.2,3.8l11.3,25.5l6,11.2l1.5,3l1.6,4.5l1.2,6l0.4,4.6l0.5,12.7l0.5,3.7l2,9.8l0.4,6.8l-0.2,6l-0.7,6.3l-3.1,16.9l-1.1,9l-0.8,3l-1.3,2.2l-1.4,1.6l-125.6,0l-0.8,-2.3l-0.2,-3l0.4,-3l1.4,-6l0.5,-3l0.1,-3.7l-0.3,-3.8l-1.4,-7.5l-3.7,-13.1l-1.5,-6.4l-1.5,-8.8l-0.8,-8.4l-0.2,-5.3l0.2,-4.5l0.8,-4.5l1.2,-3.7l1,-2.3l1.5,-2.3l3.1,-3.4l3.8,-3l9.7,-6.4l2.6,-2.2l2.2,-2.2l2.6,-3.8l4.4,-8.2l3.3,-5.2l2.9,-4l3,-3.2l3,-2.4l3,-1.8l8.9,-3.6l3,-1.6l3.1,-2.2l4.6,-4.5l2.1,-1.2l1.6,-0.4zM102.4,193.8l-0.6,0.3l-1.6,1.1l-1.3,1.6l-0.7,1.6l-0.5,1.4l-0.5,2.3l-0.2,2.2l0.1,2.3l0.6,3.8l0.8,2.2l0.8,1.5l1.2,1.5l1.3,1l0.7,0.4l1.5,0.2l1.5,-0.4l1.5,-0.9l1,-1.1l1.2,-2l0.8,-1.7l0.6,-2.3l0.3,-3l0,-2.2l-0.3,-2.2l-0.6,-2.5l-0.8,-1.8l-1.1,-1.7l-1.1,-1l-1.5,-0.7l-1.5,-0.2l-1.6,0.3zM120.6,283.1l-1.6,0.5l-1.5,1l-0.7,0.8l-0.2,0.7l0.1,0.7l0.4,0.8l0.8,0.8l1.5,0.7l1.9,0.5l1.5,0.1l2.2,0l1.5,-0.3l2.7,-1l0.8,-0.8l0.5,-0.8l0.1,-0.7l-0.2,-0.7l-0.9,-1l-1.5,-0.9l-1.5,-0.4l-2.3,-0.3l-2.2,0l-1.4,0.3zM79.3,319.8l-3.8,0.9l-1.6,0.7l-1.3,0.7l-0.9,0.7l-0.4,0.8l0,0.8l0.3,0.7l0.6,0.7l1.1,0.8l2.9,1.3l3,0.7l4.6,0.5l6.7,0.1l8,-0.4l3.3,-0.5l0.7,-0.3l0.8,-0.6l0.2,-0.8l-0.2,-0.8l-1,-1.4l-0.7,-0.8l-2.2,-1.5l-3.6,-1.5l-3.8,-0.8l-4.5,-0.4l-4.5,0l-3.7,0.4z"/>
<path fill-rule="evenodd" fill="#3a70ff" d="M116.8,197.6l3,-0.4l3.7,-0.1l5.3,0.2l3.7,0.4l2.3,0.4l2.2,0.8l2.2,1.3l1.6,1.3l3,3.7l3.7,6.2l8.9,17l5.5,9.7l1.4,3l1.1,3l1.1,4.5l0.6,4.5l0.3,3.7l0.1,12l0.5,4.5l1.5,9.1l0.2,3.7l-0.1,3.7l-0.7,6l-1.3,6l-4.5,15l-1.9,7.6l-1.2,3l-0.9,1.4l-1.3,1.6l-3.6,3l-108.9,0l-0.9,-2.3l-0.2,-2.3l0.3,-2.2l1.4,-4.5l0.4,-2.3l0,-3l-0.4,-3l-0.8,-3.7l-1.6,-5.3l-5.6,-15.7l-1.6,-5.3l-1.8,-8.1l-1.3,-9.1l-0.4,-6.8l0.4,-5.2l1,-4.5l1.8,-4.3l1,-1.7l1.7,-2.3l3,-3l4,-3l9.2,-6l2.1,-1.6l2.2,-2.1l1.9,-2.3l1.5,-2.2l4.8,-9l3.1,-4.9l2.1,-2.6l1.6,-1.7l1.6,-1.3l2.2,-1.5l3.8,-1.6l4.4,-0.8l2.3,-0.1l2.3,0.2l1.4,0.4l1.6,0.7l0.7,0.7l0.8,1.3l2.4,9.7l0.9,2.3l0.9,1.4l1.1,1.5l1.4,1.2l1.5,0.8l1.5,0.1l1.5,-0.3l1.5,-0.9l1.5,-1.5l1.1,-1.6l1.1,-2.3l0.7,-2.2l1.5,-8.2l0.6,-1.5l1,-1.4l0.7,-0.4l1.6,-0.5zM119.2,283.1l-1.6,0.7l-0.9,0.8l-0.6,0.8l-0.2,0.7l0,0.7l0.4,0.8l0.7,0.8l1.2,0.7l1.6,0.6l1.4,0.3l2.3,0.2l3.7,-0.4l1.6,-0.5l1.4,-0.8l1,-0.9l0.4,-0.8l0.1,-0.7l-0.2,-0.7l-0.6,-0.8l-0.9,-0.8l-2,-0.8l-2.2,-0.5l-2.3,-0.1l-2.3,0.2l-2,0.5zM78.1,319.1l-5.6,1.2l-2.8,1.1l-1.4,0.7l-1,0.7l-1,1.6l-0.1,1.4l0.7,1.6l1.1,1l1.9,1.2l1.9,0.8l2.6,0.7l7.1,1.1l9,0.6l12.7,-0.2l10.3,-0.8l4.7,-0.7l2.3,-0.7l1.4,-0.8l0.6,-0.8l-0.1,-0.7l-0.5,-0.7l-1.1,-0.8l-1.7,-0.8l-2.5,-0.7l-8.1,-1.8l-8.3,-2.7l-3.7,-0.9l-4.5,-0.8l-4.5,-0.3l-4.5,0l-4.9,0.5z"/>
<path fill-rule="evenodd" fill="#4297ff" d="M125,201.3l4.5,0.3l2.3,0.4l2.2,0.8l2.2,1.2l1.6,1.1l3,3l3,4l3.7,5.8l10.9,18.7l2.6,5.2l1.7,5.3l0.8,4.5l0.3,5.2l-0.2,13.6l0.5,12.7l-0.4,6l-1.2,6l-1.6,5.3l-3.7,8.9l-3.7,7.7l-2.4,3.6l-1.3,1.4l-1.6,1.2l-1.4,0.9l-1.6,0.5l-1.4,0.4l-2.3,0.2l-3.7,-0.4l-7.6,-1.8l-3.7,-0.6l-15.7,-1.6l-12.8,-2.2l-6,-0.7l-6,-0.3l-6,0.3l-6,0.6l-9,1.3l-3,0.3l-3,-0.3l-1.5,-0.4l-1.5,-0.7l-2.2,-1.8l-1.6,-1.7l-1.4,-2.2l-2.3,-4l-3,-6.1l-5.6,-12.3l-1.9,-4.9l-1.5,-4.9l-1.1,-5.2l-1,-6l-0.6,-5.2l-0.2,-4.6l0.2,-3.7l0.7,-3.7l1.1,-3l1.5,-3.1l2.7,-3.7l3,-3l4,-3l9.2,-6l2.2,-1.7l2.3,-2.1l1.9,-2.2l1.5,-2.3l4.4,-8.2l2.7,-4.3l3,-3.4l1.6,-1.3l2.2,-1.3l3,-1.1l3,-0.3l3,0.4l3,1.3l1.4,1.1l1.6,1.6l4.1,8l1.9,2.6l2.2,1.8l1.5,0.5l1.5,0.1l1.5,-0.3l1.5,-0.8l1.5,-1.3l0.9,-1l1.9,-3l3.2,-7.6l1.5,-1.8l1.5,-1l2.3,-0.9l2.2,-0.5l3,-0.3zM120.3,282.4l-2.1,0.6l-1.5,0.8l-0.9,0.8l-0.5,0.8l-0.2,0.7l0.1,0.7l0.3,0.8l0.6,0.8l1.4,1l1.5,0.6l2.2,0.5l2.3,0.2l2.2,-0.1l2.3,-0.4l3,-1.2l1,-0.6l0.7,-0.8l0.4,-0.8l0,-0.7l-0.2,-0.7l-0.5,-0.8l-0.9,-0.8l-2,-1l-2.3,-0.6l-2.2,-0.3l-2.2,0.1l-2.5,0.4z"/>
<path fill-rule="evenodd" fill="#4ebdff" d="M122,205.7l2.2,-0.4l2.3,-0.1l2.3,0.2l2.2,0.5l2.2,0.9l1.6,0.9l1.5,1.1l2.2,2.1l3,3.5l3.7,5.2l8.8,14l3.8,6.8l1.3,3l1,3l0.7,3l0.4,2.9l0.3,6.1l-0.6,10.4l-1.1,9l-1.3,5.3l-4.6,13.5l-2.4,6l-2.5,4.8l-1.7,2.7l-1.9,2.3l-1.7,1.4l-2.2,1.5l-2.3,1l-2.2,0.6l-3,0.5l-3.8,0.3l-8.2,0.4l-6,0.1l-6,-0.3l-19.5,-1.4l-20.3,0.2l-3,-0.3l-3,-0.6l-3,-1.1l-2.2,-1.1l-2.7,-2l-2.3,-2.2l-2.5,-3.1l-2.3,-3.3l-3,-5.1l-3.8,-7.3l-2,-4.5l-1.6,-4.5l-1.2,-4.5l-1.1,-6l-0.8,-6l-0.3,-4.5l0.2,-3.8l0.5,-3l1.1,-3.4l1.6,-3l2.9,-4l3.1,-3l3.9,-3l10.3,-6.8l3.5,-3l1.7,-2l1.6,-2.2l4.4,-8.2l2.3,-3.4l2.3,-2.5l1.4,-1.2l1.6,-0.9l2.2,-0.8l2.2,-0.3l3,0.5l2.3,0.9l2.1,1.3l1.6,1.6l1.6,1.8l3.5,4.9l2.1,2.3l1.1,0.8l1.5,0.8l2.2,0.5l2.3,-0.4l1.5,-0.7l1.4,-1l2.7,-3l3.4,-5.5l1.5,-1.9l2.2,-1.8l1.6,-0.7l2.2,-0.8zM122.1,281.6l-2.3,0.4l-1.6,0.5l-1.4,0.7l-1.6,1.1l-0.7,1.1l-0.2,0.7l0.3,1.5l0.5,0.8l1.7,1.2l2.2,1l3,0.5l3,0.1l3,-0.3l3,-0.7l2.5,-1.1l1,-0.7l0.7,-0.8l0.3,-0.7l0,-0.8l-0.3,-0.7l-1.5,-1.6l-1.3,-0.7l-2.2,-0.8l-2.2,-0.6l-3,-0.2l-2.9,0.1z"/>
<path fill-rule="evenodd" fill="#5cdfff" d="M125.8,208.8l2.2,0.1l1.5,0.3l2.3,0.8l1.4,0.9l1.6,1l2.2,2l4.5,5.1l6,8.4l4.4,7l2.7,4.4l1.5,3l1.2,3l0.8,3l0.6,3l0.5,4.5l-0.1,5.3l-0.5,5.2l-0.9,5.3l-1.2,3.7l-1.4,3l-1.6,2.2l-2.3,2.1l-2.2,1.3l-1.5,0.6l-1.5,0.4l-2.2,0.1l-3,-0.4l-7.6,-2.1l-3,-0.7l-3.7,-0.4l-3.7,0.1l-3,0.5l-3,1l-2.1,1.3l-1.2,1.6l-0.2,1.4l0.2,0.8l1,1.4l1.5,1.1l3,1.2l3,0.5l3.8,0.2l9,-0.8l3,0l2.2,0.4l1.3,0.5l0.9,0.6l0.9,0.9l0.7,1.5l0.2,1.5l-0.1,1.5l-1,3.7l-2,3.8l-1.7,2.1l-1.7,1.7l-2.1,1.4l-2.9,1.4l-3,0.9l-3.7,0.8l-4.6,0.7l-4.4,0.4l-6,0l-17.3,-0.5l-14.3,0.1l-4.4,-0.3l-3.8,-0.5l-3.8,-1l-3.7,-1.4l-3,-1.7l-3,-2.2l-2.3,-2.1l-2.4,-2.8l-2.8,-3.8l-3.3,-5.2l-2.7,-4.7l-2,-4.3l-1.3,-3.8l-1.4,-5.2l-1,-6l-0.8,-5.2l-0.2,-4.6l0.3,-3.7l0.7,-3l1.2,-3l1.7,-3l3,-3.7l3.3,-3l4,-3l9,-5.9l3.8,-3.1l3,-3.8l4.5,-7.6l1.4,-2.2l2.3,-2.5l1.5,-1.2l1.5,-0.8l1.5,-0.5l2.2,-0.1l1.6,0.2l2.2,0.8l1.9,1.1l1.9,1.5l5.6,6.1l2.6,2.1l1.5,0.9l1.5,0.6l2.2,0.3l1.6,-0.2l1.4,-0.5l1.6,-0.8l1.3,-1l2.3,-2.2l3.8,-4.6l3,-2.6l1.6,-0.9l2.2,-1l1.5,-0.4l2.3,-0.3z"/>
<path fill-rule="evenodd" fill="#68f4ff" d="M124.2,212.5l2.3,-0.2l2.3,0.3l1.4,0.5l2.3,1.1l1.5,1l2.2,1.9l4.6,5l3,3.9l3.7,5.4l3.3,5.2l2.2,3.8l1.4,3l1,3l0.8,3l0.5,3l0.3,3.7l-0.1,3.7l-0.5,4.6l-0.7,3.7l-1,3l-1.5,3l-1.8,2.3l-1.6,1.4l-1.6,0.9l-2.2,1l-3.8,0.8l-4.4,0.2l-11.3,-0.5l-3,0.1l-3,0.5l-3,0.8l-2.3,1l-1.7,1.2l-1.1,1.6l-0.2,1.4l0.4,1.6l1.3,1.4l2.1,1.3l1.5,0.7l3,0.8l10.5,1.2l2.1,0.6l1.7,0.9l1.2,1.3l0.3,0.8l0.3,1.4l-0.4,2.3l-1.1,2.3l-1.8,2.2l-1.5,1.3l-2.3,1.4l-2.3,1l-3,0.9l-3.7,0.9l-3.7,0.5l-3.8,0.2l-17.3,-0.1l-13.5,0.3l-5.2,-0.3l-4.5,-0.7l-3.7,-1.1l-3.8,-1.6l-3.8,-2.1l-2.6,-2.1l-2.6,-2.4l-3,-3.4l-3,-3.9l-2.5,-3.8l-2.2,-3.8l-1.4,-3l-1.3,-3.7l-1.2,-4.5l-1.2,-6.5l-0.7,-5.5l-0.2,-3.8l0.3,-3l0.6,-3.1l1.2,-2.9l1.8,-3.3l2.7,-3.4l3.2,-3l4.1,-3l9.2,-6l3.6,-3l3.1,-3.7l4.1,-6.5l1.6,-2l2,-2.1l1.7,-1l1.5,-0.5l1.5,-0.1l1.5,0.2l2.2,0.7l3,1.9l5.5,4.8l3.1,2.3l2,1l1.4,0.6l3,0.4l2.8,-0.5l2.5,-1.1l2.5,-1.9l5,-4.8l2.2,-1.7l3,-1.7l3,-0.9z"/>
<path fill-rule="evenodd" fill="#71fff2" d="M122.8,216.2l3,-0.5l3,0.3l3,1.3l3,2.2l3.7,3.7l4.5,5.6l4.5,6.4l3.5,5.9l1.6,3.7l1.2,3.8l0.7,3.7l0.3,4.5l-0.2,4.6l-0.7,3.7l-1.2,3.7l-1.6,3l-1.9,2.3l-1.7,1.4l-2.3,1.3l-2.2,0.8l-2.2,0.6l-3,0.4l-11.3,0.7l-5.3,0.6l-3,0.7l-2.2,0.8l-2.2,1.2l-1.6,1.2l-1.1,1.6l-0.3,0.7l0,1.5l0.6,1.5l1.6,1.8l2.2,1.4l2.3,0.9l9.3,2.6l1.5,0.8l0.8,0.8l0.5,0.7l0.3,0.7l-0.1,1.6l-0.3,0.8l-0.9,1.4l-1.4,1.2l-1.4,1l-3.4,1.6l-4.9,1.2l-6,0.7l-27,0.9l-4.5,0l-5.2,-0.7l-4.6,-1.2l-4.4,-2l-3.8,-2.2l-2.5,-2l-2.7,-2.5l-3,-3.3l-2.6,-3.2l-2.1,-3l-1.8,-3l-1.5,-3l-1.1,-3l-1.1,-4.5l-1.1,-6l-0.9,-6l-0.1,-3.8l0.2,-3l0.7,-3l1.2,-3l1.7,-3l3.1,-3.7l3.3,-3l3.5,-2.6l8.3,-5.4l3.3,-2.5l2.9,-3l5.1,-6.6l1.4,-1.6l1.6,-1.4l1.4,-0.8l2.3,-0.4l1.5,0.2l1.5,0.4l3,1.6l5.7,4.1l3.3,2l3.7,1.3l3.1,0.4l2.9,-0.5l3,-1.2l2.3,-1.4l6.7,-5.3l2.3,-1.3l2.3,-0.9z"/>
<path fill-rule="evenodd" fill="#77ffd8" d="M125,220.1l3,0.2l2.2,0.8l3,1.8l2.8,2.5l3.4,3.7l4,5.2l3.4,5.1l2.2,4.2l1.4,3.5l0.8,3l0.6,3.7l0.1,3.8l-0.3,3.8l-0.9,3.7l-1.2,3l-1.5,2.3l-1.4,1.4l-2,1.6l-1.6,0.9l-2.2,0.9l-4.6,1.2l-12,1.9l-6,1.3l-4.4,1.6l-3.1,1.9l-1.4,1.5l-0.8,1.5l-0.4,1.5l0.4,2.2l0.7,1.6l0.8,1l5.4,5l0.5,0.7l0.2,0.7l-0.2,0.8l-0.6,0.8l-1.1,0.7l-2,0.8l-2.5,0.7l-3.5,0.7l-10.4,1.3l-10.6,0.9l-6,-0.1l-5.2,-0.9l-4.5,-1.5l-4.5,-2.4l-4.5,-3.2l-3,-2.8l-2.3,-2.3l-2.2,-2.7l-2,-2.8l-1.7,-3l-1,-2.2l-1.6,-5.2l-2.1,-12.8l-0.2,-3l0.1,-3l0.6,-3l1.1,-3l1.7,-3l1.6,-2.2l2.1,-2.3l2.5,-2.3l3.1,-2.2l10.1,-6.8l3.5,-3l6.2,-6.2l1.5,-1.1l1.5,-0.6l2.2,-0.3l2.3,0.3l2.3,0.9l6.6,3.3l3.7,1.5l3.9,0.9l3,0.2l3,-0.4l3,-1l2.3,-1.2l7.5,-4.5l3,-1.1l2.2,-0.4z"/>
<path fill-rule="evenodd" fill="#72ffb4" d="M122.8,224.5l2.9,-0.3l2.3,0.4l2.2,0.9l3.1,2.1l3.2,3l3.8,4.5l3.2,4.5l2.6,4.5l1.4,3.4l0.9,3.3l0.6,3.8l0,3.8l-0.6,3.7l-0.9,2.8l-1.2,2.5l-1.8,2.1l-3,2.3l-3.7,1.7l-4.6,1.3l-15,3.5l-4.4,1.5l-3.8,1.8l-2.9,2.2l-1.3,1.6l-0.8,1.4l-0.5,1.6l-0.2,1.4l-0.1,4.6l-0.2,0.7l-0.8,1.3l-0.9,1l-2.1,1.1l-4.4,1.6l-5.3,1.1l-6,0.6l-4.5,0l-4.5,-0.7l-4.5,-1.4l-3.8,-1.8l-4.4,-3l-3.8,-3.2l-2.6,-2.6l-2.3,-3l-1.9,-2.9l-1,-2.4l-1.5,-5.2l-2.1,-12.8l-0.1,-4.4l0.2,-2.3l0.6,-2.3l0.9,-2.2l1.3,-2.2l2.9,-3.8l4.1,-3.8l11.3,-7.5l8.2,-6.6l2.2,-1.3l1.6,-0.5l2.2,-0.3l2.2,0.2l3,0.8l9,2.9l3.8,0.7l3,0.2l3.8,-0.4l3,-0.7l2.4,-0.9l6.6,-3l3,-0.9z"/>
<path fill-rule="evenodd" fill="#64fd7f" d="M123.5,228.3l3,0.2l2.3,0.7l2.2,1.3l2.2,1.7l3,3l3.1,3.6l2.5,3.8l2,3.8l1.2,3l0.7,3l0.4,2.9l-0.1,3.1l-0.5,3l-1,2.7l-1.5,2.5l-1.5,1.7l-2.8,2.1l-3.9,1.7l-4.6,1.5l-15,4.3l-3.9,1.5l-3.2,1.4l-2.4,1.6l-2.6,2.2l-1.7,2.2l-2.9,5.3l-2,2.1l-3,1.8l-4.5,1.3l-4.5,0.7l-3.7,0.1l-3.8,-0.5l-3.8,-1l-4.4,-1.9l-3.8,-2.2l-3.4,-2.7l-3.1,-3l-1.8,-2.2l-1.4,-2.2l-1.1,-2.3l-0.7,-2.3l-0.9,-3.7l-1.6,-9.7l-0.5,-4.6l0.1,-2.2l0.3,-2.2l1.4,-3.8l2.3,-3.8l3.5,-3.7l3.8,-3l14.3,-9.6l3,-1.7l2.3,-0.7l2.3,-0.4l3,0.2l12,2.5l3,0.4l3,0.1l3,-0.1l3,-0.5l9,-2.4l3.7,-0.6z"/>
<path fill-rule="evenodd" fill="#50fa3c" d="M83.8,231.3l2.2,-0.1l3,0.1l10.5,1.7l5.3,0.4l5.2,-0.2l9,-1l3.8,-0.2l3,0.5l3,1.1l1.4,1l2.3,1.7l3.7,3.9l3,4.1l2.3,4.3l0.7,2.2l0.5,2.3l0.3,3.7l-0.6,3.8l-1.2,3l-1.5,2.2l-1.5,1.6l-2.1,1.4l-2.9,1.6l-7.8,3l-14,4.4l-3.8,1.6l-3,1.4l-2.3,1.6l-1.9,1.4l-6.2,6.3l-2.2,1.6l-2.2,1.1l-2.3,0.7l-3,0.5l-3,0.2l-2.3,-0.2l-2.2,-0.3l-3,-0.8l-3,-1.1l-3,-1.5l-3.8,-2.5l-3,-2.7l-2.2,-2.8l-1.8,-3.7l-1.3,-4.5l-2.1,-12l-0.2,-3.7l0.6,-3.8l1.1,-3l1.9,-3l2.6,-3l2.5,-2.2l4.2,-3l10.5,-6.6l3.8,-1.7l3,-0.8z"/>
<path fill-rule="evenodd" fill="#49fd14" d="M84.5,233.5l2.3,-0.3l3,0l14.2,1.5l15.8,0.4l3.7,0.6l3.7,1.4l3,2l3.7,3.5l2.3,3.1l2.1,3.6l1,3.1l0.4,3.7l-0.3,3l-1.1,3l-1.3,2.1l-1.5,1.6l-1.9,1.6l-2.4,1.4l-4,2l-4.3,1.8l-13.3,4.5l-5.6,2.3l-4.2,2.2l-7.8,5.6l-3.8,1.8l-2.2,0.7l-2.2,0.3l-4.6,0l-3,-0.5l-2.2,-0.6l-4.5,-1.9l-3,-1.8l-3,-2.7l-1.8,-2.4l-1.5,-3l-1.3,-4.5l-2.1,-10.5l-0.2,-3.7l0.6,-3.8l1.2,-3l1.4,-2.3l2.4,-2.9l2.8,-2.5l4.5,-3.1l8.3,-4.9l3.7,-1.6l3,-0.8z"/>
<path fill-rule="evenodd" fill="#49ff03" d="M87.5,235l3,-0.1l3,0.1l21,2l3.7,0.6l3,0.8l2.3,0.8l2.4,1.2l2.9,1.9l2.6,2.5l2.3,3l1.5,3l0.8,3l0.2,3l-0.6,3l-1.1,2.3l-1.6,2.3l-1.6,1.4l-3.1,2.3l-3.2,1.8l-6.2,2.7l-11.1,3.8l-5.2,1.9l-3.8,1.8l-7.5,4l-3,1.2l-2.2,0.6l-2.2,0.3l-4.6,-0.1l-4.4,-0.9l-2.3,-0.8l-2.3,-1.1l-2.4,-1.7l-2.3,-2.2l-1.8,-3l-1.3,-3l-2,-7.6l-0.8,-4.4l-0.1,-3.8l0.4,-2.2l0.4,-1.6l1.5,-3l1.7,-2.4l2.9,-2.8l2.9,-2.2l5.5,-3.4l5.2,-2.9l3.8,-1.4l3.7,-0.7z"/>
<path fill-rule="evenodd" fill="#4fff09" d="M89.8,236.5l3.7,0l4.5,0.2l8.2,0.9l5.3,0.8l3.7,0.8l3.7,1.2l3.1,1.3l2.2,1.2l2.7,1.9l2.2,2.3l1.6,2.3l1.4,3l0.5,3l-0.1,2.2l-0.5,2.2l-1.1,2.3l-1.8,2.3l-2.4,2.2l-3.2,2.1l-3.1,1.7l-5.5,2.2l-13.4,4.5l-11.7,4.7l-4.6,1l-4.4,0l-4.6,-0.8l-2.2,-0.8l-2.2,-1.1l-2.3,-1.7l-2.3,-2.5l-1.4,-2.6l-1.6,-3.8l-1.4,-5.1l-0.6,-3.8l0.2,-3.8l0.7,-3l1.6,-3l1.8,-2.2l3,-2.8l3.5,-2.4l5.5,-3.3l3.7,-1.8l3.8,-1.2l3.8,-0.6z"/>
<path fill-rule="evenodd" fill="#69ff0f" d="M90.5,238l3.7,-0.1l4.6,0.2l6,0.6l4.4,0.8l3.4,0.9l3.4,1.2l3.8,1.7l2.5,1.5l1.9,1.6l2.3,2.3l1.5,2.4l1,2.7l0.3,2.3l-0.2,2.3l-0.8,2.2l-1.3,2.2l-1.9,2.3l-2.3,2l-2.9,1.7l-3,1.6l-6,2.2l-20.4,6.6l-4.5,0.8l-4.5,0l-2.3,-0.4l-2.2,-0.6l-2.2,-0.9l-1.8,-1l-2.6,-2.3l-1.6,-2.1l-1.7,-3.1l-1.3,-3.8l-0.9,-3.7l-0.1,-3l0.3,-3l0.8,-2.3l1.7,-3l1.9,-2.2l2.6,-2.2l3.3,-2.3l4.6,-2.7l3.8,-1.7l3,-1l3.7,-0.7z"/>
<path fill-rule="evenodd" fill="#8cff16" d="M90.5,239.6l3.7,-0.3l3.8,0l4.5,0.4l4,0.6l3.5,0.9l3,1.1l3,1.4l3.2,1.9l2,1.6l2.2,2.2l1.5,2.2l0.9,2.2l0.4,2.3l-0.2,2.3l-0.7,2.2l-1.3,2.2l-1.9,2.3l-1.8,1.5l-2.3,1.5l-3,1.5l-7.2,2.6l-15,4.4l-5.3,0.9l-4.5,0.1l-2.2,-0.3l-2.3,-0.6l-2.3,-0.9l-1.5,-1l-2.2,-1.7l-1.6,-2l-1.7,-3l-1.2,-3l-0.6,-3l-0.2,-3l0.4,-3l0.9,-2.3l1.3,-2.2l2,-2.2l2.2,-2l3,-2.1l3.8,-2.2l3.7,-1.9l3,-1l3,-0.6z"/>
<path fill-rule="evenodd" fill="#b4ff1c" d="M91.2,241l3,-0.3l3.8,-0.1l3.7,0.3l3.8,0.6l3,0.8l3,1.2l3,1.5l3,2l1.9,1.6l2,2.2l0.9,1.6l0.8,2.2l0.3,2.2l-0.3,2.3l-0.9,2.3l-1,1.4l-1.2,1.6l-1.8,1.5l-2.1,1.5l-3.1,1.5l-3.7,1.5l-3.8,1.2l-11.3,2.9l-6,0.9l-4.4,0l-2.3,-0.4l-2.3,-0.6l-2.2,-1l-1.5,-1.1l-1.5,-1.3l-1.7,-2.2l-1.3,-2.3l-1,-2.9l-0.4,-2.2l-0.1,-2.3l0.3,-2.3l0.8,-2.2l1.4,-2.2l1.9,-2.3l2.3,-2l2.5,-1.7l3.5,-2.2l3,-1.4l3,-1.1l3,-0.7z"/>
<path fill-rule="evenodd" fill="#e0ff1e" d="M91.2,242.5l3,-0.4l3,-0.2l3.8,0.2l3,0.5l2.8,0.7l2.4,1l2.7,1.3l2.6,1.7l2.3,1.8l1.6,1.7l1,1.6l1,2.2l0.3,2.2l-0.3,2.3l-0.9,2.3l-1,1.4l-1.4,1.6l-1.8,1.4l-2.3,1.4l-2.2,1.1l-6.8,2.3l-9,2.2l-6,0.7l-4.5,-0.2l-2.3,-0.4l-2.2,-0.7l-3,-1.7l-1.5,-1.3l-1.5,-1.9l-1.2,-2.2l-0.7,-2.3l-0.3,-2.2l0.1,-2.2l0.5,-2.3l0.7,-1.5l1.5,-2.2l1.4,-1.6l1.8,-1.5l3,-2.1l5.2,-2.9l2.4,-0.9l2.8,-0.9z"/>
<path fill-rule="evenodd" fill="#e1eb28" d="M92,244l2.2,-0.4l3,-0.2l3,0.1l2.3,0.3l3,0.7l2.3,0.8l2.2,1.2l2.2,1.4l1.8,1.5l1.5,1.4l1.3,1.7l0.9,2.1l0.4,1.5l-0.1,2.3l-0.7,2.2l-0.9,1.5l-1.3,1.5l-1.8,1.5l-4.1,2.3l-6,2.1l-6.7,1.5l-6,0.7l-4.5,-0.2l-2.2,-0.4l-2.3,-0.6l-3,-1.7l-1.5,-1.3l-1.3,-1.7l-0.8,-1.4l-0.5,-1.6l-0.3,-1.4l0,-2.3l0.4,-2.3l0.6,-1.4l1,-1.6l1.7,-1.9l1.9,-1.8l2.1,-1.5l5,-2.8l2.2,-1l3,-0.8z"/>
<path fill-rule="evenodd" fill="#dab128" d="M92.8,245.5l2.2,-0.4l3,-0.2l4.5,0.4l2.3,0.6l2.2,0.9l2,1l2.1,1.5l1.6,1.5l1.2,1.6l0.9,1.4l0.5,1.6l0.2,2.2l-0.2,1.5l-0.7,1.5l-1,1.5l-2.4,2.3l-4.1,2.2l-4.6,1.6l-6,1.3l-5.3,0.5l-4.4,-0.3l-3.8,-0.9l-1.5,-0.7l-1.5,-0.9l-1.4,-1.4l-1.1,-1.4l-0.7,-1.6l-0.4,-1.4l-0.1,-1.6l0.2,-1.4l0.4,-1.6l0.7,-1.4l1,-1.6l1.4,-1.4l3.8,-3l4.4,-2.4l4.6,-1.5z"/>
<path fill-rule="evenodd" fill="#eb8221" d="M93.5,247l2.3,-0.4l2.2,-0.1l3.8,0.3l3.7,1.2l1.5,0.7l2,1.4l2.2,2.3l1,1.4l0.5,1.6l0.3,1.4l-0.2,1.6l-0.5,1.4l-0.9,1.6l-2.4,2.2l-3.5,2l-4.5,1.5l-4.5,0.9l-4.5,0.4l-4.5,-0.4l-3,-0.8l-1.5,-0.7l-1.5,-1l-1.7,-1.9l-0.7,-1.5l-0.3,-1.5l0,-1.5l0.3,-1.5l1.1,-2.2l1.1,-1.6l1.6,-1.4l3.1,-2.3l3.8,-1.9l3.7,-1.2z"/>
<path fill-rule="evenodd" fill="#fa5a14" d="M95,248.5l3.8,-0.3l3,0.4l3,1.1l2.2,1.4l1.9,2l1.2,2.3l0.2,2.2l-0.4,1.5l-0.7,1.2l-1.5,1.8l-2.9,1.9l-3,1.3l-3.8,1l-3.8,0.4l-3.7,-0.1l-3.7,-0.7l-2.3,-1.1l-1.5,-1.2l-0.7,-0.8l-0.4,-0.7l-0.5,-1.5l0.1,-2.2l0.9,-2.3l1.8,-2.3l3.3,-2.5l3.7,-1.8l3.8,-1z"/>
<path fill-rule="evenodd" fill="#ff370f" d="M97.2,250.1l3,0.2l2.3,0.6l2.3,1.3l1.4,1.5l1,1.7l0.3,1.4l-0.2,1.6l-0.3,0.7l-1,1.5l-1.8,1.5l-2.4,1.4l-3,1l-3,0.5l-3,0.1l-3,-0.4l-2.3,-0.7l-1.7,-1.2l-1.2,-1.4l-0.4,-0.8l-0.1,-1.5l0.4,-1.7l1.3,-2l2.4,-2.2l2.9,-1.6l3.1,-1.1l3,-0.4z"/>
<path fill-rule="evenodd" fill="#ff260c" d="M96.5,252.3l2.3,0l1.4,0.4l1.6,0.6l1.5,1.3l0.7,1.2l0.3,1l-0.2,1.6l-0.9,1.4l-1.4,1.3l-1.9,1l-1.9,0.7l-2.2,0.4l-2.3,0.1l-2.3,-0.3l-1.4,-0.4l-1.6,-1l-0.8,-1l-0.4,-1.5l0.4,-1.5l0.9,-1.5l1.7,-1.5l2,-1.1l2.2,-0.8l2.3,-0.4z"/>
<path fill="none" stroke="rgba(50,70,70,0.3)" stroke-width="0.5" d="M122.8,216.2l3,-0.5l3,0.3l3,1.3l3,2.2l3.7,3.7l4.5,5.6l4.5,6.4l3.5,5.9l1.6,3.7l1.2,3.8l0.7,3.7l0.3,4.5l-0.2,4.6l-0.7,3.7l-1.2,3.7l-1.6,3l-1.9,2.3l-1.7,1.4l-2.3,1.3l-2.2,0.8l-2.2,0.6l-3,0.4l-11.3,0.7l-5.3,0.6l-3,0.7l-2.2,0.8l-2.2,1.2l-1.6,1.2l-1.1,1.6l-0.3,0.7l0,1.5l0.6,1.5l1.6,1.8l2.2,1.4l2.3,0.9l9.3,2.6l1.5,0.8l0.8,0.8l0.5,0.7l0.3,0.7l-0.1,1.6l-0.3,0.8l-0.9,1.4l-1.4,1.2l-1.4,1l-3.4,1.6l-4.9,1.2l-6,0.7l-27,0.9l-4.5,0l-5.2,-0.7l-4.6,-1.2l-4.4,-2l-3.8,-2.2l-2.5,-2l-2.7,-2.5l-3,-3.3l-2.6,-3.2l-2.1,-3l-1.8,-3l-1.5,-3l-1.1,-3l-1.1,-4.5l-1.1,-6l-0.9,-6l-0.1,-3.8l0.2,-3l0.7,-3l1.2,-3l1.7,-3l3.1,-3.7l3.3,-3l3.5,-2.6l8.3,-5.4l3.3,-2.5l2.9,-3l5.1,-6.6l1.4,-1.6l1.6,-1.4l1.4,-0.8l2.3,-0.4l1.5,0.2l1.5,0.4l3,1.6l5.7,4.1l3.3,2l3.7,1.3l3.1,0.4l2.9,-0.5l3,-1.2l2.3,-1.4l6.7,-5.3l2.3,-1.3l2.3,-0.9"/>
<path fill="none" stroke="rgba(50,70,70,0.3)" stroke-width="0.5" d="M92.8,245.5l2.2,-0.4l3,-0.2l4.5,0.4l2.3,0.6l2.2,0.9l2,1l2.1,1.5l1.6,1.5l1.2,1.6l0.9,1.4l0.5,1.6l0.2,2.2l-0.2,1.5l-0.7,1.5l-1,1.5l-2.4,2.3l-4.1,2.2l-4.6,1.6l-6,1.3l-5.3,0.5l-4.4,-0.3l-3.8,-0.9l-1.5,-0.7l-1.5,-0.9l-1.4,-1.4l-1.1,-1.4l-0.7,-1.6l-0.4,-1.4l-0.1,-1.6l0.2,-1.4l0.4,-1.6l0.7,-1.4l1,-1.6l1.4,-1.4l3.8,-3l4.4,-2.4l4.6,-1.5"/>
<path fill="none" stroke="rgba(50,70,70,0.3)" stroke-width="0.5" d="M95.8,249.3l3,-0.2l3,0.5l2.9,1.2l2,1.6l1.2,1.4l0.9,2.3l-0.1,2.3l-1.2,2.2l-1.5,1.5l-2.8,1.7l-3,1.1l-3.7,0.8l-3.7,0.2l-3,-0.3l-3,-0.8l-2,-1.2l-1.4,-1.5l-0.4,-0.8l-0.3,-1.5l0.3,-2.2l1.3,-2.3l2.3,-2.2l2.4,-1.5l3.3,-1.5l3.5,-0.8"/></g>
<g><rect x="211.0" y="178.2" width="150.0" height="156.8" fill="#1807fc"/>
<path fill-rule="evenodd" fill="#1d18fd" d="M248.5,178.7l0.5,-0.5l102.7,0l1.1,2.2l0.8,2.3l1,4.5l0.4,5.2l-0.3,11.3l0.2,6l2.3,24.7l0.8,6.2l0.8,4l0.7,2.7l0.7,1.8l0.8,1.1l0,84.8l-150,0l0,-18.9l1.7,-3.7l1.2,-3.7l0.9,-4.5l0.4,-4.5l-0.2,-3l-0.5,-3l-3.5,-11.2l0,-34.8l1.1,-2l4.1,-5.5l2.1,-3.5l1.6,-3.7l3.8,-10.6l2.6,-5.2l3.5,-5.1l10.3,-13.7l1.9,-3l1.2,-3l1.4,-6l0.7,-2.2l1.4,-3l1.8,-2.5zM288.2,208.2l-0.7,0.1l-0.7,0.3l-1.1,1.1l-0.7,1.5l-0.3,2.2l0.4,2.3l0.7,1.5l1,1l1.4,0.6l1.6,-0.6l0.9,-1l0.7,-1.5l0.3,-2.3l-0.4,-2.2l-0.7,-1.5l-0.8,-0.9l-0.8,-0.4l-0.8,-0.2zM308.4,275l-0.8,0.7l-0.2,0.7l0.3,0.8l1.1,0.8l1.2,0.3l2.2,0l1.5,-0.3l1.1,-0.8l0.4,-0.8l-0.2,-0.7l-0.5,-0.5l-1.5,-0.7l-2.2,-0.2l-1.6,0.3l-0.8,0.4zM302.7,302.7l-2.4,0.7l-0.9,0.8l-0.1,0.8l0.6,0.7l1.1,0.5l1.5,0.4l3,0.2l1.5,-0.2l1.5,-0.5l0.9,-0.4l0.6,-0.7l0,-0.8l-0.8,-0.7l-1.4,-0.6l-2.3,-0.3l-2.8,0.1zM253.2,324.5l-2.2,0.7l-1,0.8l-0.3,0.7l0.4,0.7l1.3,0.8l2.8,0.8l4,0.2l3.8,-0.3l2.6,-0.7l1.2,-0.8l0.5,-0.7l-0.3,-0.7l-0.9,-0.8l-3.1,-0.9l-4.5,-0.4l-4.3,0.6z"/>
<path fill-rule="evenodd" fill="#232cfe" d="M270.2,178.8l2.4,-0.6l76.3,0l1.8,4.5l1,5.3l0.2,4.4l-0.2,10.6l0.1,5.2l2.2,20.2l1.8,19.8l1.4,8.5l3.8,12.3l0,66l-150,0l0,-12.5l1.5,-1.8l0.9,-1.5l1.1,-2.2l1,-2.7l2,-7.9l0.5,-3l0.2,-3l0,-3l-0.5,-3l-1.1,-3.7l-3.3,-9.7l-0.9,-3.8l-0.5,-3.8l-0.4,-6l0,-6.7l0.5,-4.5l0.9,-3.8l1.8,-3.7l4.5,-6.1l2.3,-3.6l7.3,-15l2.2,-3.8l2.7,-3.8l3.8,-4.4l4.3,-3.8l3.7,-2.5l9,-5l2.1,-1.5l1.6,-1.5l1.6,-2.3l1,-2.2l0.5,-2.2l0.8,-6l0.9,-2.3l1.2,-1.3l1.5,-1l1.8,-0.7l2.7,-0.9zM286.7,207.4l-0.7,0.6l-0.8,0.9l-0.6,1.5l-0.4,2.3l0.2,2.3l0.4,1.4l1.2,1.9l1.5,0.9l1.5,0l0.8,-0.4l0.7,-0.6l1.1,-1.8l0.5,-2.2l-0.1,-2.3l-0.8,-2.3l-0.7,-1.2l-0.7,-0.7l-1.6,-0.6l-0.7,0l-0.8,0.3zM309.2,274.2l-1.6,0.8l-0.7,0.7l-0.2,0.7l0.3,0.8l0.8,0.7l0.7,0.4l1.5,0.4l2.2,0.1l2.3,-0.7l1.1,-0.9l0.3,-0.8l-0.2,-0.7l-0.7,-0.7l-0.5,-0.4l-2.3,-0.6l-1.4,-0.1l-1.6,0.3zM300.6,302.7l-1.6,0.7l-0.7,0.8l-0.1,0.8l0.5,0.7l0.8,0.5l2.3,0.8l3,0.2l3,-0.3l2.2,-0.8l0.6,-0.4l0.6,-0.8l-0.1,-0.7l-0.6,-0.8l-1.3,-0.6l-1.4,-0.4l-3.8,-0.3l-3.4,0.6zM253,323.7l-2.9,0.7l-1.5,0.8l-0.8,0.8l-0.2,0.7l0.3,0.7l1.3,1l3,1l3,0.5l3.8,0.1l3.8,-0.4l2.6,-0.7l1.8,-0.8l0.8,-0.7l0.3,-0.7l-0.2,-0.7l-0.7,-0.8l-1.6,-0.8l-2.3,-0.7l-2.3,-0.3l-3,-0.2l-3,0.2l-2.2,0.3z"/>
<path fill-rule="evenodd" fill="#2a43ff" d="M289.8,178.8l1,-0.6l55.7,0l0.4,0.8l1.5,4.4l0.8,4.6l0.2,4.4l-0.1,9.8l0.1,5.2l2.6,21.8l1.1,16.5l0.7,7.5l1.2,7.6l3.3,14.9l1,7.5l0.2,8.2l-0.2,29.3l-0.2,6.7l-0.5,7.6l-144.7,0l-0.3,-2.3l0.2,-1.5l3,-7.5l1.6,-5.3l2.1,-10.4l0.7,-6.1l-0.2,-3.7l-0.7,-3.8l-1.1,-3.7l-4,-11.3l-1,-3.7l-0.7,-4.5l-0.3,-5.2l0.2,-5.3l0.8,-4.5l1.3,-3.4l2,-3.4l4.6,-6l2,-3l6.4,-11.8l2.9,-4.6l3.2,-4.6l3.6,-4.1l3.8,-3.3l3.8,-2.6l3.7,-2l7.8,-3.7l3.5,-2.2l3.1,-3.1l5.1,-6.7l2.2,-2.3l2.3,-1.5l6,-3.4l8.3,-5.7zM286.3,206l-1.1,0.8l-1.1,2.2l-0.5,2.2l0,3l0.6,2.2l0.8,1.6l0.7,0.7l1.1,0.8l0.7,0.3l1.5,0l0.8,-0.4l0.9,-0.7l0.6,-0.7l0.7,-1.6l0.6,-2.2l-0.2,-3l-0.4,-1.5l-0.7,-1.5l-0.8,-1.2l-0.7,-0.7l-1.6,-0.7l-0.7,-0.1l-1.2,0.5zM308.2,274.2l-1.3,0.8l-0.6,0.7l-0.2,0.7l0.2,0.8l0.6,0.8l1.6,0.8l2.3,0.4l2.2,-0.1l2.2,-0.8l1.2,-1.1l0.2,-0.8l-0.2,-0.7l-0.6,-0.7l-1.3,-0.8l-1.5,-0.4l-1.5,-0.2l-1.5,0.1l-1.8,0.5zM301.5,302l-2,0.5l-1.7,0.9l-0.6,0.8l-0.1,0.8l0.4,0.7l1.1,0.7l2.1,0.8l2.5,0.4l2.3,0l2.3,-0.3l2.2,-0.6l1.8,-1l0.5,-0.7l0,-0.8l-0.5,-0.8l-1.1,-0.7l-1.5,-0.5l-3.7,-0.6l-4,0.4zM252.4,323l-3.2,0.7l-2.2,1l-0.8,0.5l-0.7,0.8l-0.2,0.7l0.3,0.7l0.6,0.8l1.1,0.8l3.5,1.2l3.7,0.6l4.5,0.1l4.5,-0.5l3.7,-1l2.3,-1.2l0.7,-0.8l0.2,-0.7l-0.2,-0.8l-0.5,-0.7l-0.9,-0.7l-1.6,-0.7l-2.2,-0.6l-3,-0.5l-3,-0.2l-3.8,0.1l-2.8,0.4z"/>
<path fill-rule="evenodd" fill="#3a70ff" d="M298,178.7l0.7,-0.5l45.6,0l0.9,2.2l1.1,3.8l0.7,4.5l0.3,18l2.9,23.3l1.1,18l0.7,8.3l1.1,8.1l2.6,15l0.7,6.8l0.2,7.5l-0.1,12l-1.1,29.3l-132.2,0l-0.4,-3.8l0.1,-4.5l0.2,-6l1,-13.5l0,-5.2l-0.5,-3.8l-0.9,-3.8l-5.5,-15l-1,-3.7l-0.8,-3.7l-0.4,-5.3l0.1,-4.5l0.7,-3.8l1.3,-3.7l2.2,-3.7l5.1,-6.8l2.1,-3l6.3,-10.5l2.9,-4.6l3.8,-5l3.6,-3.9l3.4,-3l4.3,-2.9l3.7,-1.9l8.2,-3.4l3.1,-1.6l9,-5.8l2.2,-0.8l2.2,-0.2l2.3,0.4l1,0.4l0.8,0.8l0.2,0.8l0.1,1.4l-0.9,6l-0.2,3l0.2,3l0.6,2.3l0.6,1.5l1,1.5l1.1,1l0.8,0.4l0.7,0.3l1.5,-0.1l1.6,-0.9l0.8,-0.7l0.9,-1.5l0.7,-2.2l0.1,-2.3l-0.3,-3l-0.8,-2.3l-1.5,-2.7l-4.9,-5.5l-0.4,-1.5l0.1,-1.5l0.9,-3l0.9,-2.2l1.6,-3l1.5,-2.3l1.9,-2.3l1.5,-1.4l4.4,-3.3zM309.7,273.4l-2.4,0.8l-1.1,0.8l-0.5,0.7l-0.2,0.7l0.1,0.8l0.6,0.9l1.6,1l2.2,0.5l3,0l1.5,-0.4l1.2,-0.5l1,-0.7l0.5,-0.8l0.2,-0.8l-0.2,-0.7l-0.6,-0.7l-1.1,-0.8l-2.5,-0.8l-1.5,-0.1l-1.8,0.1zM303.3,301.2l-3.1,0.5l-2.6,1l-1.1,0.7l-0.5,0.8l0,0.8l0.3,0.7l0.9,0.8l2.3,0.9l3,0.5l3,0.1l3,-0.3l2.3,-0.7l1.4,-0.7l0.8,-0.6l0.5,-0.7l0.1,-0.8l-0.4,-0.8l-0.9,-0.7l-1.5,-0.7l-3,-0.7l-2.3,-0.2l-2.2,0.1zM250.6,322.2l-3.6,0.9l-3,1.5l-1.3,1.4l-0.2,0.7l0.1,0.7l0.4,0.8l1,0.9l1.5,0.9l3.7,1.4l4.6,0.6l5.2,0l5.2,-0.5l4.6,-1.2l1.4,-0.7l1.6,-1.1l0.8,-1.1l0.2,-0.7l-0.2,-0.7l-0.4,-0.8l-1.2,-1l-2.2,-1.1l-3.8,-1l-3,-0.4l-3.8,-0.2l-3.7,0.1l-3.9,0.6z"/>
<path fill-rule="evenodd" fill="#4297ff" d="M303.2,178.8l0.7,-0.6l38.1,0l1.5,3.8l0.8,3l0.5,3.7l0.6,17.3l0.6,5.8l2.6,18.2l1.7,29.2l2.9,27.8l0.2,7.4l-0.1,12l0.2,15l-0.3,13.6l-104,0l12,-1.4l6,-1.1l3,-1l2.2,-1l1.6,-1.2l1,-1.1l0.4,-1.5l-0.4,-1.5l-1.5,-1.5l-1.7,-1l-2.3,-0.9l-3.7,-1l-3.8,-0.6l-3.8,-0.2l-5.2,0.2l-5.2,0.9l-4.6,1.3l-2.2,1l-1.8,1l-1.7,1.6l-0.7,1.4l0.3,1.6l1.9,2.9l0.3,0.8l-0.2,0.7l-1.1,0.3l-1.5,-0.3l-1.5,-0.8l-1.5,-1.6l-3.5,-8l-0.9,-4.6l-1.7,-14.2l-1.2,-6l-1.7,-5.2l-5,-12.8l-1.8,-6l-0.8,-5.2l-0.1,-4.6l0.6,-4.4l1.3,-3.8l2.1,-3.8l7.4,-9.7l7.7,-12l5,-6.7l3.3,-3.8l3.1,-3l3.5,-2.6l3.7,-2.3l5.3,-2.2l10.4,-3.3l3,-0.8l2.3,0l1.5,0.5l0.8,0.5l1.4,1.5l1.6,2.7l1.9,5.2l1.4,2.3l1.1,1.2l1.6,0.9l1.4,0.3l1.6,-0.4l1.4,-1.1l1.3,-1.6l0.6,-1.6l0.5,-2.2l0.2,-1.5l-0.1,-3l-1.4,-6.7l-0.4,-3.8l0,-3.7l0.8,-3.8l1.2,-3l2,-3l2.8,-3l4.5,-3.9zM308.3,273.4l-1.8,0.8l-0.9,0.8l-0.6,0.7l-0.2,0.7l0.1,0.8l0.6,1l0.7,0.7l1.6,0.8l3,0.5l1.4,0l2.3,-0.3l1.5,-0.6l1,-0.6l0.8,-0.7l0.4,-0.8l0,-0.8l-0.2,-0.7l-0.5,-0.7l-1,-0.8l-1.3,-0.6l-1.4,-0.4l-2.3,-0.2l-3.2,0.4zM299.7,301.2l-1.7,0.5l-1.5,0.7l-1.3,1l-0.5,0.8l0,0.8l0.3,0.7l0.8,0.7l1.3,0.8l1.7,0.6l2.2,0.5l2.2,0.2l3,-0.1l2.3,-0.2l2.3,-0.6l2.2,-0.9l1.4,-1l0.5,-0.8l0.2,-0.7l-0.3,-0.8l-0.7,-0.7l-1.9,-1.1l-2.2,-0.6l-2.2,-0.4l-3,-0.1l-3,0.3l-2.1,0.4z"/>
<path fill-rule="evenodd" fill="#4ebdff" d="M307.8,178.8l0.5,-0.6l31.4,0l1.1,2.4l0.9,2.8l0.7,3l0.4,3.8l0.5,12l0.4,5.2l2.8,18.8l0.8,8.2l2.3,57l0.1,12.8l1.3,12.8l0.4,6.7l0.1,6l-0.2,5.3l-86.4,0l3.9,-0.9l3,-0.9l2.6,-1.2l1.8,-1.4l1.6,-1.6l0.6,-1.6l0,-1.4l-0.6,-1.6l-1.6,-1.6l-3,-1.8l-3.7,-1.4l-3.7,-1l-4.6,-0.7l-4.4,-0.3l-15,0.4l-2.3,-0.4l-2.3,-1.2l-1,-1l-1.2,-1.6l-2.2,-4.4l-5.2,-14.2l-5.7,-13.5l-2,-6l-1.1,-5.3l-0.2,-4.4l0.5,-4.6l0.6,-2.2l0.8,-2.2l2.2,-3.8l7.5,-9.8l8.6,-12.5l3,-4l3,-3.5l3,-3.1l2.6,-2.3l2.6,-1.9l3,-1.8l3,-1.3l3,-1l4.5,-0.9l3.7,-0.5l2.3,0l1.5,0.2l2.2,0.8l1.6,0.9l2.2,2l3.7,4.9l2.3,1.8l0.8,0.3l1.4,0.2l1.6,-0.3l0.8,-0.4l1.4,-1.3l1.1,-1.7l0.7,-1.6l0.6,-2.2l0.3,-3l0,-8.2l0.3,-4.6l0.7,-3.7l1,-3l1.6,-3l1.7,-2.3l2.1,-2.2l5.7,-5.4zM311.1,272.7l-1.9,0.2l-1.4,0.4l-1.6,0.6l-1.3,1.1l-0.5,0.7l-0.3,0.7l0,0.8l0.3,0.8l0.5,0.7l1.3,1.1l1.6,0.6l1.4,0.4l2.3,0.2l2.3,-0.2l1.4,-0.3l1.6,-0.5l1.7,-1.3l0.8,-1.5l-0.1,-0.8l-0.2,-0.7l-0.8,-0.9l-1.4,-1l-1.6,-0.6l-2.2,-0.4l-1.9,-0.1zM299.6,300.4l-1.6,0.5l-2.2,0.8l-1.5,1l-0.8,0.7l-0.3,0.8l-0.1,0.8l0.3,0.7l0.7,0.7l1.1,0.8l1.3,0.6l3,0.8l3.7,0.4l3.8,-0.1l3.8,-0.6l3.1,-1.1l1.4,-0.8l0.9,-0.7l0.5,-0.7l0.3,-0.8l-0.1,-0.8l-0.5,-0.7l-0.8,-0.7l-1.8,-1l-3,-0.9l-3,-0.3l-3,0l-3,0.2l-2.2,0.4z"/>
<path fill-rule="evenodd" fill="#5cdfff" d="M312.2,178.5l0.3,-0.3l24.6,0l1.8,3.8l1.1,3.7l0.9,6l0.6,10.5l0.5,5.2l3,18.8l0.8,8.2l0.7,18l0.1,11.3l-0.3,7.5l-1.3,13.5l0.1,9.7l-0.2,7.6l0.6,3.7l2.5,8.3l1.1,6l0.7,7.4l0,3.8l-0.2,3.8l-76.7,0l3.3,-1.4l2.6,-1.6l1.5,-1.6l1.3,-2.2l0.2,-2.2l-0.3,-1.6l-1.4,-2.2l-1.6,-1.5l-2.3,-1.4l-2.2,-1.1l-3,-1.1l-3,-0.8l-6.8,-1.1l-12.7,-1.4l-4.5,-1l-2.2,-1l-2.3,-1.4l-2.3,-2.1l-1.4,-1.9l-1.9,-3l-1.9,-3.6l-6.8,-14.6l-2.8,-7.2l-1.2,-4.6l-0.7,-4.4l0,-3.8l0.6,-3.8l1.3,-3.7l2.1,-3.7l7.5,-9.8l9.8,-13.5l3.7,-4.5l3.7,-3.9l3.8,-3.3l3,-2l3,-1.4l3.8,-1.2l4.4,-0.6l3.8,0.1l3.8,0.8l3,1.3l2.2,1.5l4,3.5l2,1.1l1.5,0.3l1.5,-0.1l1.5,-0.5l1.2,-0.8l1.3,-1.6l0.9,-1.4l1.4,-3.8l0.7,-3.8l1.6,-11.2l0.7,-3l1.2,-3l1.5,-2.7l1.9,-2.5l2.1,-2.3l5,-4.7l2.2,-2.5zM308.5,272.7l-2.2,0.7l-1.3,0.8l-0.8,0.8l-0.8,1.4l0.1,1.6l0.5,1l1.5,1.4l1.5,0.9l2.2,0.6l1.6,0.3l3.7,-0.1l2.3,-0.6l1.4,-0.7l1.6,-1.1l0.6,-1l0.3,-1.5l-0.5,-1.5l-1.6,-1.5l-1.1,-0.6l-2.3,-0.8l-2.2,-0.4l-2.2,0l-2.3,0.3zM301.9,299l-4.7,1l-2.2,0.8l-1.5,0.8l-1.5,1.1l-0.6,0.7l-0.3,0.8l-0.1,0.8l0.3,0.7l0.5,0.7l1,0.8l3,1.3l4.4,0.9l5.3,0.2l4.5,-0.5l4.5,-1.2l3.2,-1.5l1,-0.7l1.2,-1.5l0.2,-0.8l-0.1,-0.7l-0.4,-0.7l-0.8,-0.8l-2,-1.2l-2.3,-0.8l-3,-0.6l-3,-0.2l-3.7,0.2l-2.9,0.4z"/>
<path fill-rule="evenodd" fill="#68f4ff" d="M316.8,178.3l0.1,-0.1l16.9,0l1.5,2.2l1.2,2.3l1.1,3l0.7,3l0.7,4.5l1.4,14.2l2.9,17.3l0.9,6.7l0.5,10.5l0.2,15.1l-0.3,7.4l-0.8,6l-1.6,5.8l-2.7,7l-0.7,2.2l-0.5,3l-0.3,6.8l-0.3,1.5l-1,3l-0.3,1.5l0.1,0.8l0.9,1.4l4.1,4.6l2.1,3l1.2,2.2l1.3,3l1.2,4.5l0.7,4.5l0.2,5.2l-0.3,4.6l-69.6,0l2.6,-1.6l2.4,-2.2l1.4,-2.2l0.6,-2.3l-0.1,-2.2l-0.7,-2.4l-1.5,-2.4l-2.2,-2l-1.6,-1l-2.2,-1.1l-4.5,-1.3l-6,-1.2l-13.5,-1.8l-6,-1.5l-3,-1.2l-3,-1.8l-2.2,-2l-2.3,-2.5l-3,-4.7l-4.1,-7.6l-3.2,-6.8l-2,-5.2l-1.2,-4.6l-0.6,-3.7l0,-3.7l0.5,-3.8l1.3,-3.8l2.1,-3.7l16.2,-21.4l3.7,-4.4l3.8,-4l3.6,-3.2l3.2,-2.3l2.8,-1.4l2.4,-0.8l3,-0.5l3.8,-0.1l3.7,0.4l3.7,1.1l3.8,1.7l4.5,2.6l2.3,0.8l1.4,0l1.6,-0.3l2.2,-1.2l1.5,-1.5l1,-1.5l1.8,-3.7l1.3,-4.6l1.5,-7.4l0.9,-3.8l1.1,-3l1.4,-2.9l1.6,-2.3l2.1,-2.6l7.9,-7.2l2.7,-2.9zM307.1,272.7l-1.7,0.7l-1.4,1l-1.1,1.3l-0.5,1.5l0.2,1.5l1.1,2.3l1.8,2l1.5,1.1l2.2,1l2.3,0.6l2.3,0.2l2.2,-0.1l2.2,-0.4l2.3,-0.7l1.5,-0.9l1.3,-1.4l0.4,-0.7l0.2,-1.5l-0.5,-2.2l-1.5,-2.3l-1.8,-1.5l-2.6,-1.3l-3.7,-0.8l-3.8,0l-2.9,0.6zM308.7,295.2l-4.7,1l-5.2,1.5l-4.6,1.5l-2.6,1.2l-2.2,1.6l-1.3,1.4l-0.4,1.6l0.1,0.7l0.3,0.7l0.9,1l1.5,0.9l2.3,0.9l3,0.6l6,0.6l6.7,-0.3l3,-0.5l3.7,-0.8l2.9,-0.8l3.9,-1.6l4.6,-2.2l1.7,-1.5l0.3,-0.7l-0.1,-0.8l-1.5,-1.5l-3.5,-1.9l-3.7,-1.5l-3,-0.8l-3,-0.5l-2.3,-0.1l-2.8,0.3z"/>
<path fill-rule="evenodd" fill="#71fff2" d="M322.8,178.7l1.4,-0.5l3,0l2.3,1l2.3,1.9l1.4,1.8l1.6,2.8l1.3,3.7l0.8,3.8l2,15l3.5,20.2l0.6,6l0.3,7.6l0.1,12l-0.2,4.4l-0.4,4.6l-0.6,3.2l-0.7,3l-1.1,2.8l-1.2,2.1l-1.4,1.9l-1.6,1.2l-1.4,0.8l-2.3,0.3l-1.5,-0.2l-2.2,-0.7l-9,-4.4l-2.3,-0.8l-2.3,-0.4l-3,-0.2l-3,0.2l-2.2,0.5l-2.6,1.1l-1.8,1.6l-0.6,0.7l-0.7,1.5l-0.2,2.2l0.1,9l-0.5,2.3l-0.9,1.5l-1.5,1.5l-1,0.7l-8.6,4.6l-3.5,2.3l-1.5,1.4l-1.1,1.5l-0.8,1.5l-1.1,3l-0.6,0.7l-0.9,0.5l-3,0.5l-4.4,0l-7.6,-0.4l-7.4,-0.9l-3.8,-0.6l-3.8,-1l-3,-1.1l-3,-1.7l-2.2,-1.6l-2.2,-2.2l-2.3,-2.8l-2.3,-3.3l-2.8,-4.8l-2.3,-4.6l-1.9,-4.4l-1.4,-3.8l-0.8,-3l-0.6,-3l-0.2,-3l0.1,-2.2l0.5,-3l0.6,-2.3l1,-2.3l1.2,-2.2l2.7,-3.8l10.7,-13.8l5.2,-6.4l3.8,-4l3.8,-3.5l2.9,-2.3l2.3,-1.4l2.2,-0.9l2.3,-0.6l4.5,-0.4l3,0.3l3.8,0.7l3.7,1.2l6,2.3l2.3,0.5l1.4,0.1l1.6,-0.3l1.4,-0.7l1.6,-1l1.3,-1.2l1.2,-1.6l1.4,-2.2l1.1,-2.2l1.3,-3.8l1.9,-7.7l1.1,-3.5l1.2,-3l1.7,-3l2.8,-3.4l3.7,-3.6l6.7,-5.4l2.3,-1.6l2.3,-1.3zM327.2,307.9l4.6,-0.1l2.2,0.4l2.2,0.7l3,1.8l1.6,1.4l1.4,1.8l1.4,2.3l0.9,2l0.9,2.5l0.6,2.7l0.5,3.3l0.2,3l-0.3,5.2l-63.7,0.1l2,-1.6l1.9,-2.2l1.3,-2.2l0.7,-2.3l0.3,-2.3l-0.1,-2.2l-1.8,-7.5l0.2,-0.8l0.5,-0.7l2,-0.8l2.3,-0.2l12.8,-0.8l6,-0.6l12.7,-2.4l3.7,-0.5z"/>
<path fill-rule="evenodd" fill="#77ffd8" d="M323.5,184.2l1.5,-0.1l1.5,0.1l1.5,0.6l1.5,0.9l1.5,1.5l0.8,1l1.4,2.9l1,2.9l0.9,3.7l4.9,27.7l0.8,6l0.5,6l0.3,8.3l-0.2,7.5l-0.4,5.2l-0.8,4.5l-1,3.2l-1.4,3.1l-1.6,1.8l-1.4,1.1l-1.6,0.7l-2.2,0.4l-3.8,-0.1l-9,-1.7l-5.2,-0.5l-2.2,0.1l-3,0.5l-2.3,0.7l-1.5,0.7l-2,1.3l-1.9,2.2l-5.4,11.3l-1.5,2.3l-2,2.2l-2.8,2.2l-12.9,8.4l-2.3,1.2l-2.2,1l-3,0.7l-3,0.3l-3.8,0l-4.4,-0.4l-3.8,-0.7l-3.8,-1.1l-3,-1.3l-2.2,-1.4l-2.2,-1.7l-2.3,-2.3l-2.3,-2.7l-2.2,-3.3l-2.2,-3.7l-1.9,-3.4l-1.6,-3.8l-1.3,-3.8l-0.7,-3l-0.4,-3l-0.1,-3l0.2,-2.2l0.5,-2.2l0.8,-2.3l1,-2.3l1.9,-3l11.3,-14.5l5.3,-6.1l3.7,-3.7l3.7,-3.4l3,-2.3l2.3,-1.3l2.3,-0.9l2.2,-0.5l2.2,-0.3l3,0l4.6,0.6l9,2.2l3.7,0.4l3,-0.6l1.5,-0.6l1.9,-1.2l1.7,-1.5l1.4,-1.5l1.1,-1.5l1.3,-2.3l1.6,-3.7l2.2,-8l1.2,-3.3l1.4,-3l2,-3l3.2,-3.7l4.2,-3.5l4.6,-2.7l2.2,-0.9l1.5,-0.4zM323.5,310.9l5.3,0l2.2,0.3l2.2,0.5l2.3,0.9l1.5,0.8l1.5,1.1l1.5,1.6l1.2,1.6l1.2,2.3l1.6,4.4l0.4,2.3l0.3,3l-0.1,3l-0.3,2.3l-56.8,0l2.1,-2.3l1.5,-2.3l1.7,-3.7l2.2,-7.5l0.8,-1.5l1.6,-1.5l1.3,-0.8l1.9,-0.7l4.2,-1l12,-2l6.7,-0.8z"/>
<path fill-rule="evenodd" fill="#72ffb4" d="M323.5,188.7l1.5,0.1l1.5,0.5l2.3,1.6l1.7,2.3l1.4,3l1,3l1,4.5l4.7,24.7l0.7,6l0.3,6l0.1,6.8l-0.3,6l-0.6,4.5l-0.9,3.7l-1.1,3l-1.3,2.1l-1.5,1.6l-1.3,0.9l-1.7,0.7l-1.5,0.4l-3.7,0.3l-9.8,-0.4l-4.5,0.2l-4.5,0.7l-3.8,1.4l-2.2,1.4l-2.2,2l-1.8,2.3l-5.8,8.2l-2.2,2.5l-2.2,2.1l-3.8,2.8l-4.5,2.7l-5.3,2.8l-3.7,1.6l-3,0.9l-3,0.5l-3,0.2l-3.7,-0.2l-3.8,-0.6l-3,-0.9l-3,-1.4l-2.2,-1.4l-2.3,-1.8l-2.3,-2.3l-2.2,-2.8l-2.2,-3.2l-1.8,-3l-1.5,-3l-1.3,-3.1l-1,-3.6l-0.6,-3l-0.2,-2.3l0.2,-3l0.3,-2.3l0.7,-2.2l1,-2.2l1.2,-2.3l2,-3l8.4,-10.8l5.3,-5.8l3.7,-3.6l4.6,-3.9l2.9,-2.2l2.3,-1.2l2.2,-0.9l2.3,-0.6l4.5,-0.4l4.5,0.3l9,1.5l3.7,0l2.3,-0.4l1.5,-0.6l2.2,-1.1l1.7,-1l1.8,-1.6l1.4,-1.4l1.1,-1.7l1.3,-2.1l1.6,-3.8l2.3,-7.4l1.2,-3l1.5,-3l1.9,-2.9l3,-3.2l3.8,-2.8l3.7,-1.8l3,-0.6zM322.7,313.2l4.5,0.1l4.6,0.9l2.2,0.8l1.5,0.9l1.5,1.1l1.4,1.4l1.2,1.6l1.2,2.1l1.3,3.9l0.6,4.4l-0.1,2.3l-0.4,2.3l-50.5,0l1.9,-2.3l1.4,-2.3l4.4,-9l1.6,-2l1.5,-1.3l3,-1.6l4.5,-1.4l6.8,-1.3l5.9,-0.6z"/>
<path fill-rule="evenodd" fill="#64fd7f" d="M320.5,193.1l1.5,-0.3l1.5,0.1l2.3,0.7l1.4,1.1l0.8,0.8l1.8,2.9l1.2,3.1l1,3.7l4.1,20.2l1,6l0.6,6l0.2,6l-0.2,6l-0.5,4.6l-0.7,3.7l-1.1,3l-1.7,3l-1.2,1.3l-1.5,1.2l-1.5,0.8l-2.3,0.8l-3.7,0.5l-9,0.6l-4.5,0.5l-3.8,0.8l-4.3,1.8l-2.4,1.4l-2.7,2.3l-7.8,8.9l-2.2,2.2l-3,2.5l-3,2l-3.8,2.2l-4.5,2.1l-3.7,1.5l-3.8,1.1l-3,0.5l-3,0.1l-3,-0.1l-3,-0.6l-3,-1l-2.2,-1.1l-2.3,-1.5l-2.3,-1.9l-2.2,-2.3l-2.2,-2.8l-1.9,-2.8l-1.3,-2.3l-1.4,-3l-1,-3l-0.7,-3l-0.3,-3l0,-2.2l0.3,-2.2l0.5,-2.3l0.9,-2.3l1.1,-2.2l3.5,-5.2l6.3,-8.1l4.4,-4.9l3.8,-3.4l4.5,-3.7l3,-2.2l3,-1.8l3.7,-1.4l4.6,-0.7l3.7,0l9,1l4.5,-0.2l2.2,-0.5l2.3,-0.8l2.4,-1.1l2.1,-1.4l1.8,-1.6l1.4,-1.5l2.4,-3.7l1.6,-3.8l3.1,-9l1.1,-2.2l1.4,-2.3l2.2,-2.8l2.2,-2l3,-1.9l2.3,-0.9zM322.8,315.4l4.4,0.3l3.8,0.9l1.5,0.7l2,1.1l2.5,2.3l1.9,3l1.3,3.7l0.4,3.8l-0.2,2.3l-0.4,1.5l-44.2,0l2.1,-3l3.3,-6l1.4,-2.3l1.9,-2.3l1.8,-1.4l2.9,-1.7l3.8,-1.4l4.5,-1l5.3,-0.5z"/>
<path fill-rule="evenodd" fill="#50fa3c" d="M321.2,196.9l2.3,0.2l1.4,0.6l0.9,0.7l1.4,1.7l1.6,2.9l1,3l1.1,4.4l4,19.6l0.7,5.2l0.3,4.5l0.1,5.3l-0.3,4.4l-0.5,3.8l-0.8,3l-1.2,2.8l-1.5,2.4l-2.4,2.3l-1.3,0.8l-2.2,1l-3.8,0.9l-9,1.3l-4.5,0.8l-4.5,1.4l-3,1.3l-2.6,1.5l-2.9,2.3l-8,7.9l-5.3,4.3l-5.2,3.2l-3,1.4l-3.8,1.4l-3.7,1.1l-3.7,0.8l-3,0.3l-3,-0.1l-3,-0.5l-2.3,-0.7l-3,-1.4l-2.3,-1.6l-2.2,-1.9l-2.2,-2.5l-2.2,-2.7l-1.3,-2.3l-1.5,-3l-1,-3l-0.6,-3l-0.2,-2.3l0.1,-2.2l0.3,-2.2l0.7,-2.3l0.9,-2.3l3,-5.2l5.4,-7.5l3.8,-4.4l4.6,-4.1l8.2,-6.2l2.2,-1.4l2.3,-1.1l3,-1l3.7,-0.6l3.8,0l8.2,0.5l4.6,-0.3l3,-0.7l2.2,-0.8l2.2,-1l2.3,-1.4l1.8,-1.5l1.5,-1.5l1.2,-1.5l1.4,-2.3l1.8,-3.7l3.3,-9l1.2,-2.3l1.3,-2l1.5,-1.8l2.3,-1.9l2.2,-1.2l2.2,-0.6zM317.5,318.4l4.5,-0.6l4.5,0.3l3.9,1.1l2.1,1.1l1.5,1.1l2.2,2.5l0.8,1.3l0.9,2.3l0.4,2.2l0,1.5l-0.3,2.2l-0.5,1.6l-37.2,0l4.5,-8.1l1.4,-2.1l1.6,-1.6l2.1,-1.8l2.3,-1.3l2.4,-0.9l2.9,-0.8z"/>
<path fill-rule="evenodd" fill="#49fd14" d="M319.8,201.4l2.2,-0.2l1.5,0.6l1.5,1.2l0.8,0.9l1,2.1l1.2,3.1l1,3.6l2.8,12.2l1.2,6.5l0.7,4.6l0.3,4.4l0,4.6l-0.3,3.7l-0.5,3l-0.9,3l-1.3,2.8l-1.5,2.1l-1.5,1.5l-1.5,1.1l-3.1,1.5l-3.6,1.1l-8.3,1.7l-4.5,1.1l-3.8,1.3l-3.7,1.7l-2.3,1.4l-3,2.2l-7.4,6.7l-4.6,3.6l-5.2,3.1l-5.2,2.2l-4.6,1.3l-3.7,0.7l-3.7,0.2l-3,-0.2l-3,-0.6l-2.3,-0.9l-3,-1.6l-2.2,-1.7l-1.6,-1.6l-1.9,-2.2l-1.5,-2.2l-1.2,-2.3l-0.9,-2.3l-0.7,-2.2l-0.4,-3l0,-2.2l0.3,-2.3l0.5,-2.3l1.9,-4.4l3.6,-6l4.4,-6l3.4,-3.6l5.3,-4.2l6.7,-4.9l2.3,-1.3l2.3,-1l3,-0.8l3,-0.4l11.2,0.1l4.5,-0.4l3,-0.6l2.8,-0.9l2.5,-1.1l2.2,-1.3l2,-1.4l1.6,-1.5l1.3,-1.5l1.5,-2.2l1.9,-3.8l3.4,-8.2l1.8,-3.3l2.3,-2.6l1.4,-1l1.6,-0.7zM320.5,320.6l3.7,-0.1l3.8,0.7l3,1.4l2.2,1.8l1.6,2.3l0.6,1.5l0.3,1.5l0.1,1.5l-0.3,1.5l-0.6,1.5l-0.5,0.8l-28.7,0l0.5,-2.3l1.1,-3l1.4,-2.3l1.9,-2.2l1.8,-1.5l2.5,-1.5l2.6,-1l3,-0.6z"/>
<path fill-rule="evenodd" fill="#49ff03" d="M319,207.3l1.5,-0.5l1.5,0.2l1.5,1.1l1.5,2.4l1.5,4.1l2.3,8.2l1.4,6.1l1.1,5.5l0.5,3.8l0.2,3.8l-0.1,3.7l-0.4,3l-0.8,3l-0.8,2.3l-1.1,2l-1.6,1.9l-2.3,2.1l-3.7,1.9l-3.7,1.3l-11.3,3.2l-3.7,1.4l-3.7,1.8l-4.9,3.1l-8.7,7.2l-3.7,2.7l-4.5,2.6l-4.5,1.9l-3.7,1l-3.8,0.6l-3.8,0.2l-3,-0.2l-3,-0.7l-2.8,-1l-2.4,-1.4l-2.2,-1.8l-1.6,-1.6l-1.6,-2l-1.3,-2.2l-0.8,-1.8l-0.7,-2l-0.4,-2.2l-0.2,-2.3l0.2,-2.3l0.4,-2.2l0.6,-2.2l2.3,-5.3l3.2,-5.3l3.5,-4.4l3.8,-3.5l8.3,-6.1l3.7,-2.4l3,-1.3l2.3,-0.7l3,-0.5l11.3,-0.1l5.2,-0.6l3,-0.7l3,-0.9l3,-1.2l2.2,-1.3l3.4,-2.5l2.6,-3l1.8,-3l3.5,-7.1l1.5,-2.7l1.5,-1.9l1.5,-1.2zM321.3,323.6l2.9,-0.1l2.3,0.5l2.6,1.2l1.7,1.5l1,1.5l0.6,2.2l-0.2,1.6l-0.3,0.7l-1.2,1.5l-1.2,0.8l-16.5,0l-0.8,-0.8l-0.6,-1.5l0.1,-1.5l0.9,-2.2l1.1,-1.6l1.5,-1.4l1.6,-0.9l2.2,-1l2.3,-0.5z"/>
<path fill-rule="evenodd" fill="#4fff09" d="M319,216.3l1.5,-0.4l0.7,0.2l0.8,0.5l0.8,0.8l1.4,2.6l1.6,3.6l1.4,4.4l1.6,5.5l0.7,3.9l0.3,3l0,3l-0.3,3l-0.5,2.3l-0.7,2.3l-1.1,2.2l-1.4,2.2l-1.6,1.5l-3,2.2l-3,1.4l-13.4,4.9l-6,2.7l-5.3,3.3l-8.3,6.4l-3.7,2.6l-4.5,2.6l-4.5,1.7l-3,0.8l-3.7,0.5l-3.8,0l-3,-0.3l-3,-0.8l-3,-1.3l-2.2,-1.6l-2,-1.8l-2.2,-3l-1.6,-3.8l-0.7,-3.7l0,-2.3l0.3,-2.2l1.2,-4.5l2.4,-5.3l3,-4.4l3.3,-3.6l3.7,-3l7.6,-5.3l3,-1.7l3,-1.3l2.2,-0.6l3,-0.4l10.5,-0.4l6,-0.7l6,-1.4l4.9,-1.9l3.4,-2l2.8,-2.5l2,-2.2l4.2,-5.5l1.4,-1.6l0.8,-0.6zM321.2,328.7l1.6,-0.4l0.7,0l1.5,0.5l0.9,0.9l0.2,0.8l-0.2,0.7l-0.9,0.8l-1.5,0.4l-1.5,0l-1.6,-0.4l-0.7,-0.8l-0.1,-0.8l0.3,-0.7l1.3,-1z"/>
<path fill-rule="evenodd" fill="#69ff0f" d="M317.5,226.1l1.5,-0.4l1.5,0.2l1.5,0.9l0.8,0.8l1.4,2.4l1.4,3l0.9,2.8l0.6,3.2l0.3,3l-0.1,2.2l-0.4,2.2l-0.6,2.3l-1,2.3l-0.9,1.4l-1.2,1.6l-2,1.7l-2.2,1.6l-3,1.5l-12,5.1l-5.2,2.6l-5.3,3.2l-12,8.7l-4.5,2.5l-3.8,1.5l-3,0.7l-3.7,0.5l-3.7,-0.1l-3,-0.4l-3,-1l-2.3,-1.1l-2.3,-1.7l-2,-2.1l-1.8,-3l-1.2,-3.8l-0.3,-3.7l0.2,-2.3l0.5,-2.2l1.6,-4.5l2.4,-4.5l2.9,-3.5l3.7,-3.3l9,-6.2l3,-1.6l2.3,-0.9l2.3,-0.7l3,-0.4l10.4,-0.5l4.6,-0.4l4.4,-0.7l3.8,-0.8l4,-1.2l3.5,-1.6l2.8,-1.4l4.7,-3.1l1.5,-0.8z"/>
<path fill-rule="evenodd" fill="#8cff16" d="M314.5,232.8l2.3,-0.4l1.4,0l1.6,0.5l1.4,1l1.6,2l0.7,1.5l0.8,3.8l-0.1,3.8l-0.5,2.2l-0.9,2.1l-1.2,1.7l-1.3,1.4l-1.6,1.6l-2.1,1.4l-4,2.3l-10.1,5.1l-5.3,2.9l-4.4,2.9l-9,6.4l-3.8,2.4l-3.8,1.9l-3,1l-3,0.7l-3.7,0.4l-3,-0.2l-3,-0.5l-3,-1.1l-2.3,-1.3l-2.1,-1.9l-1.6,-2.1l-0.9,-1.6l-0.8,-2.3l-0.5,-2.2l-0.1,-2.2l0.2,-2.3l0.4,-2.3l1.6,-4.4l2.2,-3.8l2.6,-3l3.6,-3l6,-4.1l5.2,-3.1l2.2,-0.9l2.3,-0.6l3.7,-0.6l12,-0.6l8.3,-0.9l6.7,-1.3l8.3,-2.3z"/>
<path fill-rule="evenodd" fill="#b4ff1c" d="M310.8,237.4l3.7,0l2.3,0.5l1.7,1.1l1.1,1.4l0.7,2.3l-0.1,2.3l-0.7,2.2l-1.3,2.2l-2.2,2.4l-3.8,2.9l-15,9.1l-15.7,10.8l-4.5,2.4l-3.8,1.4l-3.7,0.8l-3.7,0.1l-3.8,-0.6l-2.2,-0.7l-1.6,-0.7l-1.4,-0.9l-1.6,-1.3l-1.9,-2.4l-0.8,-1.5l-0.8,-2.2l-0.5,-3.8l0.1,-2.2l0.5,-2.3l1.3,-3.7l1.3,-2.3l1.1,-1.5l2.7,-2.9l3.8,-2.9l5.2,-3.5l3,-1.7l3,-1.4l2.3,-0.7l3,-0.6l3.7,-0.3l15.8,-0.7l12.8,-1.1z"/>
<path fill-rule="evenodd" fill="#e0ff1e" d="M291.2,240.4l11.3,0.3l3.7,0.3l3,0.5l2.3,0.8l1.6,1.1l0.7,1.6l-0.1,1.4l-0.5,1.6l-1.5,2.2l-2.1,2.2l-2.6,2.3l-21.8,15.7l-4.4,2.9l-3.8,1.9l-3,1.1l-3,0.7l-3,0.3l-3,-0.1l-3,-0.7l-2.2,-0.9l-2.2,-1.4l-1.5,-1.5l-1.6,-2.3l-0.9,-2.2l-0.5,-3l0.1,-3l0.7,-3l1.3,-3l1.6,-2.3l2.2,-2.4l3,-2.4l4.5,-3l4.5,-2.6l3,-1.3l3,-0.8l3.8,-0.6l10.4,-0.4z"/>
<path fill-rule="evenodd" fill="#e1eb28" d="M278.5,242.7l4.5,-0.5l6,-0.1l6,0.4l5.2,0.8l3.1,0.9l1.4,0.8l0.8,0.7l0.8,1.5l0.1,1.5l-0.5,1.5l-1.5,2.2l-2,2.3l-2.5,2.3l-12.1,9.7l-4,2.9l-3.8,2.3l-3,1.5l-2.2,0.8l-3,0.8l-2.3,0.3l-2.3,0.1l-2.2,-0.3l-2.2,-0.5l-2.3,-1l-2.2,-1.6l-1.3,-1.6l-1.3,-2.2l-0.7,-2.2l-0.2,-2.3l0.4,-3l0.6,-2.3l1.2,-2.2l1.6,-2.2l1.9,-1.9l2.3,-1.8l3,-2.1l3.7,-2.2l3,-1.5l3,-1.1l3,-0.7z"/>
<path fill-rule="evenodd" fill="#dab128" d="M279.2,244.2l4.6,-0.4l4.4,0.1l4.6,0.5l3.7,1l2,1l1.5,1.6l0.4,1.4l0,0.8l-0.4,1.5l-0.7,1.5l-1.7,2.2l-2.8,3l-3.2,3l-7.1,5.7l-3,2l-3,1.7l-4.5,1.8l-2.2,0.6l-2.3,0.2l-2.3,0l-2.2,-0.3l-2.2,-0.7l-1.6,-0.8l-1.5,-1.1l-1.5,-1.8l-1,-2l-0.4,-1.8l-0.2,-1.9l0.2,-2.3l0.7,-2.3l1.3,-2.2l1.7,-2.2l1.7,-1.6l2.8,-2l3,-1.8l3,-1.7l3,-1.3l2.2,-0.8l3,-0.6z"/>
<path fill-rule="evenodd" fill="#eb8221" d="M281.5,245.7l4.5,0l3.8,0.6l2.5,0.9l1.3,0.8l0.9,0.7l0.8,1.5l0.2,0.8l-0.2,1.4l-0.5,1.6l-0.9,1.4l-2.3,3l-3.7,3.8l-4.6,3.7l-4.8,3l-3.7,1.6l-3.8,0.9l-3.8,0.1l-3,-0.7l-1.4,-0.7l-1.6,-1.1l-1.3,-1.6l-0.9,-1.4l-0.4,-1.6l-0.2,-1.4l0.1,-1.6l0.5,-2.2l1.1,-2.2l1.1,-1.6l1.6,-1.5l2.2,-1.7l3,-1.9l3,-1.6l3,-1.4l2.2,-0.7l2.3,-0.5l3,-0.4z"/>
<path fill-rule="evenodd" fill="#fa5a14" d="M279.2,247.9l3,-0.2l3,0.3l2.6,0.7l1.4,0.7l0.9,0.8l0.8,1.5l0.1,0.7l-0.1,1.6l-0.9,2.2l-2.1,3l-2.9,3l-3.5,2.8l-3.7,2.3l-3,1.3l-3.8,0.8l-3,0.1l-3,-0.7l-2.2,-1.4l-0.8,-0.7l-1,-1.5l-0.5,-1.5l-0.2,-1.5l0.2,-1.5l0.4,-1.5l0.7,-1.5l1.1,-1.5l3.1,-2.7l4.4,-2.7l4.6,-1.9l4.4,-1z"/>
<path fill-rule="evenodd" fill="#ff370f" d="M277.8,250.2l3,-0.1l2.2,0.3l2.2,1l1.1,1l0.5,1.5l-0.1,1.5l-0.9,2.3l-1.7,2.3l-2.2,2.2l-3.1,2.2l-2.6,1.5l-3,1l-3,0.5l-2.2,-0.2l-2.2,-0.7l-1.6,-1l-1.3,-1.8l-0.4,-2.3l0.5,-2.2l1.4,-2.2l2.5,-2.3l3.3,-2l3.8,-1.6l3.8,-0.9z"/>
<path fill-rule="evenodd" fill="#ff260c" d="M274.8,253l2.2,-0.3l2.2,0.1l1.5,0.4l1.1,0.8l0.6,0.7l0.2,1.5l-0.4,1.5l-0.9,1.5l-1.3,1.5l-1.7,1.5l-2.1,1.2l-2.2,1l-2.2,0.5l-2.3,0l-1.5,-0.3l-1.5,-0.8l-0.7,-0.8l-0.4,-0.8l-0.2,-1.5l0.4,-1.5l0.9,-1.5l1.5,-1.5l2.2,-1.4l2.3,-1.1l2.3,-0.7z"/>
<path fill="none" stroke="rgba(50,70,70,0.3)" stroke-width="0.5" d="M327,178.2l2.5,1l1.6,1.2l1.4,1.6l2,3l1.4,3.7l0.7,3l0.7,3.7l1.6,12.8l3.3,19.4l0.9,9.1l0.3,6.7l0.1,8.3l-0.2,5.3l-0.3,4.4l-0.6,3.8l-0.6,3l-0.7,2.2l-1,2.3l-0.9,1.5l-2.2,2.5l-1.5,1l-1.5,0.5l-1.5,0.1l-1.5,-0.2l-1.5,-0.4l-9,-4.4l-2.3,-0.8l-2.2,-0.6l-2.2,-0.3l-2.3,0l-2.3,0.2l-2.2,0.5l-3,1.4l-1.5,1.3l-0.9,1.4l-0.4,1.6l0,10.4l-0.3,1.6l-0.7,1.5l-0.7,1l-1.5,1.4l-1.9,1.3l-7.9,4l-2.2,1.5l-1.5,1.3l-1.5,1.6l-0.9,1.4l-1.4,3.7l-0.7,0.8l-0.8,0.4l-1.4,0.4l-2.3,0.1l-3.7,0l-5.3,-0.3l-10.5,-1.1l-3.8,-0.7l-3,-0.8l-4.4,-1.9l-2.3,-1.4l-1.9,-1.5l-2.9,-3l-3.5,-4.9l-4.7,-8.6l-1.7,-3.8l-1.5,-3.7l-1.1,-3.5l-0.5,-2.5l-0.5,-4.5l0.4,-4.5l0.6,-2.3l0.8,-2.2l1.2,-2.2l1.4,-2.3l17,-21.7l5.9,-6.2l3,-2.7l2.3,-1.7l2.2,-1.4l3,-1.2l2.2,-0.4l4.6,-0.2l2.7,0.2l4,0.9l3,1l6,2.3l1.5,0.4l1.5,0.2l1.5,-0.2l1.5,-0.4l1.5,-0.8l1.4,-1.1l1.3,-1.5l1.6,-2.2l1.2,-2.3l0.9,-2.3l0.9,-3l2.3,-9l0.9,-2.6l0.8,-1.8l2.3,-3.8l1.8,-2.2l1.8,-1.9l6,-5.1l4.7,-3.6l2.1,-1.3l2.2,-0.9M282.7,335l2.7,-2.3l1.4,-1.7l0.7,-1.3l1.1,-3l0.3,-3l-0.2,-2.2l-1.7,-6.8l0.2,-0.8l0.5,-0.7l1.3,-0.6l1.5,-0.3l15,-0.9l4.5,-0.5l17.2,-3l2.3,-0.2l2.3,0.1l2.2,0.4l3.3,1.2l2.7,2l1.5,1.5l1.3,1.8l1.8,3.7l0.8,2.3l0.6,3l0.7,6l-0.3,5.2"/>
<path fill="none" stroke="rgba(50,70,70,0.3)" stroke-width="0.5" d="M279.2,244.2l4.6,-0.4l4.4,0.1l4.6,0.5l3.7,1l2,1l1.5,1.6l0.4,1.4l0,0.8l-0.4,1.5l-0.7,1.5l-1.7,2.2l-2.8,3l-3.2,3l-7.1,5.7l-3,2l-3,1.7l-4.5,1.8l-2.2,0.6l-2.3,0.2l-2.3,0l-2.2,-0.3l-2.2,-0.7l-1.6,-0.8l-1.5,-1.1l-1.5,-1.8l-1,-2l-0.4,-1.8l-0.2,-1.9l0.2,-2.3l0.7,-2.3l1.3,-2.2l1.7,-2.2l1.7,-1.6l2.8,-2l3,-1.8l3,-1.7l3,-1.3l2.2,-0.8l3,-0.6"/>
<path fill="none" stroke="rgba(50,70,70,0.3)" stroke-width="0.5" d="M276.2,249.4l3.8,-0.5l3,0.1l2.3,0.4l2.2,1.2l1,1.1l0.4,1.5l-0.3,2.2l-1.2,2.3l-2.4,3l-2.8,2.5l-3,2.2l-3.7,1.9l-3,0.9l-3,0.3l-3,-0.4l-2.3,-1l-1.3,-1.1l-0.6,-0.8l-0.8,-2.2l-0.1,-1.6l0.3,-1.4l1,-2.3l1.9,-2.3l3.4,-2.4l3.9,-2l4.3,-1.6"/></g>
<rect x="27.5" y="176.6" width="150.8" height="157.2" fill="none" stroke="#222" stroke-width="0.9"/>
<line x1="27.5" y1="176.1" x2="27.5" y2="334.3" stroke="#222" stroke-width="1.2"/>
<line x1="27.0" y1="333.8" x2="178.8" y2="333.8" stroke="#222" stroke-width="1.2"/>
<line x1="25.7" y1="177.3" x2="27.5" y2="177.3" stroke="#222" stroke-width="1"/>
<line x1="24.7" y1="203.4" x2="27.5" y2="203.4" stroke="#222" stroke-width="1"/>
<text x="22.6" y="207.3" font-size="11.2" fill="#111" text-anchor="end" >4</text>
<line x1="25.7" y1="229.4" x2="27.5" y2="229.4" stroke="#222" stroke-width="1"/>
<line x1="24.7" y1="255.5" x2="27.5" y2="255.5" stroke="#222" stroke-width="1"/>
<text x="22.6" y="259.4" font-size="11.2" fill="#111" text-anchor="end" >3</text>
<line x1="25.7" y1="281.6" x2="27.5" y2="281.6" stroke="#222" stroke-width="1"/>
<line x1="24.7" y1="307.6" x2="27.5" y2="307.6" stroke="#222" stroke-width="1"/>
<text x="22.6" y="311.5" font-size="11.2" fill="#111" text-anchor="end" >2</text>
<line x1="25.7" y1="333.7" x2="27.5" y2="333.7" stroke="#222" stroke-width="1"/>
<line x1="27.5" y1="333.8" x2="27.5" y2="336.6" stroke="#222" stroke-width="1"/>
<text x="27.5" y="349.2" font-size="11.2" fill="#111" text-anchor="middle" >0</text>
<line x1="65.2" y1="333.8" x2="65.2" y2="336.6" stroke="#222" stroke-width="1"/>
<text x="65.2" y="349.2" font-size="11.2" fill="#111" text-anchor="middle" >3</text>
<line x1="102.9" y1="333.8" x2="102.9" y2="336.6" stroke="#222" stroke-width="1"/>
<text x="102.9" y="349.2" font-size="11.2" fill="#111" text-anchor="middle" >6</text>
<line x1="140.6" y1="333.8" x2="140.6" y2="336.6" stroke="#222" stroke-width="1"/>
<text x="140.6" y="349.2" font-size="11.2" fill="#111" text-anchor="middle" >9</text>
<line x1="178.3" y1="333.8" x2="178.3" y2="336.6" stroke="#222" stroke-width="1"/>
<text x="178.3" y="349.2" font-size="11.2" fill="#111" text-anchor="middle" >12</text>
<line x1="46.4" y1="333.8" x2="46.4" y2="335.6" stroke="#222" stroke-width="1"/>
<line x1="84.1" y1="333.8" x2="84.1" y2="335.6" stroke="#222" stroke-width="1"/>
<line x1="121.8" y1="333.8" x2="121.8" y2="335.6" stroke="#222" stroke-width="1"/>
<line x1="159.5" y1="333.8" x2="159.5" y2="335.6" stroke="#222" stroke-width="1"/>
<text x="2.0" y="189.4" font-size="15.5" fill="#111" text-anchor="start" >c</text>
<text x="53.9" y="359.9" font-size="12" fill="#111" textLength="99.2" lengthAdjust="spacingAndGlyphs">Wavenumber (Å<tspan font-size="8" dy="-4.5">-1</tspan><tspan dy="4.5">)</tspan></text>
<text x="32.7" y="195.8" font-size="15.3" fill="#fff">FACs</text>
<text transform="translate(13.0,252.4) rotate(-90)" font-size="12" fill="#111" text-anchor="middle">R+α (Å)</text>
<rect x="211" y="178.2" width="150.3" height="157.0" fill="none" stroke="#222" stroke-width="0.9"/>
<line x1="211" y1="177.7" x2="211" y2="335.7" stroke="#222" stroke-width="1.2"/>
<line x1="210.5" y1="335.2" x2="361.8" y2="335.2" stroke="#222" stroke-width="1.2"/>
<line x1="209.2" y1="179.8" x2="211" y2="179.8" stroke="#222" stroke-width="1"/>
<line x1="208.2" y1="205.6" x2="211" y2="205.6" stroke="#222" stroke-width="1"/>
<text x="206.8" y="209.5" font-size="11.2" fill="#111" text-anchor="end" >4</text>
<line x1="209.2" y1="231.4" x2="211" y2="231.4" stroke="#222" stroke-width="1"/>
<line x1="208.2" y1="257.2" x2="211" y2="257.2" stroke="#222" stroke-width="1"/>
<text x="206.8" y="261.1" font-size="11.2" fill="#111" text-anchor="end" >3</text>
<line x1="209.2" y1="283.0" x2="211" y2="283.0" stroke="#222" stroke-width="1"/>
<line x1="208.2" y1="308.8" x2="211" y2="308.8" stroke="#222" stroke-width="1"/>
<text x="206.8" y="312.7" font-size="11.2" fill="#111" text-anchor="end" >2</text>
<line x1="209.2" y1="334.6" x2="211" y2="334.6" stroke="#222" stroke-width="1"/>
<line x1="211.0" y1="335.2" x2="211.0" y2="338.0" stroke="#222" stroke-width="1"/>
<text x="211.0" y="349.9" font-size="11.2" fill="#111" text-anchor="middle" >0</text>
<line x1="248.6" y1="335.2" x2="248.6" y2="338.0" stroke="#222" stroke-width="1"/>
<text x="248.6" y="349.9" font-size="11.2" fill="#111" text-anchor="middle" >3</text>
<line x1="286.1" y1="335.2" x2="286.1" y2="338.0" stroke="#222" stroke-width="1"/>
<text x="286.1" y="349.9" font-size="11.2" fill="#111" text-anchor="middle" >6</text>
<line x1="323.7" y1="335.2" x2="323.7" y2="338.0" stroke="#222" stroke-width="1"/>
<text x="323.7" y="349.9" font-size="11.2" fill="#111" text-anchor="middle" >9</text>
<line x1="361.3" y1="335.2" x2="361.3" y2="338.0" stroke="#222" stroke-width="1"/>
<text x="361.3" y="349.9" font-size="11.2" fill="#111" text-anchor="middle" >12</text>
<line x1="229.8" y1="335.2" x2="229.8" y2="337.0" stroke="#222" stroke-width="1"/>
<line x1="267.4" y1="335.2" x2="267.4" y2="337.0" stroke="#222" stroke-width="1"/>
<line x1="304.9" y1="335.2" x2="304.9" y2="337.0" stroke="#222" stroke-width="1"/>
<line x1="342.5" y1="335.2" x2="342.5" y2="337.0" stroke="#222" stroke-width="1"/>
<text x="186.2" y="190.6" font-size="15.5" fill="#111" text-anchor="start" >d</text>
<text x="236.8" y="361" font-size="12" fill="#111" textLength="99" lengthAdjust="spacingAndGlyphs">Wavenmuber (Å<tspan font-size="8" dy="-4.5">-1</tspan><tspan dy="4.5">)</tspan></text>
<text x="217.9" y="195.7" font-size="15.3" fill="#fff">IF-FACs</text>
<text transform="translate(196.3,254) rotate(-90)" font-size="12" fill="#111" text-anchor="middle">R+α (Å)</text>
<path d="M27.5,259.3 H93.9" stroke="#1a1a1a" stroke-width="1.5" stroke-dasharray="4.3,3.75" stroke-dashoffset="1.8"/>
<path d="M211,257.8 H275.6" stroke="#1a1a1a" stroke-width="1.5" stroke-dasharray="3.9,4.15" stroke-dashoffset="3.25" opacity="0.8"/>
<defs><linearGradient id="cb" x1="0" y1="0" x2="0" y2="1"><stop offset="0.000" stop-color="rgb(255, 25, 10)"/><stop offset="0.070" stop-color="rgb(255, 55, 15)"/><stop offset="0.110" stop-color="rgb(250, 90, 20)"/><stop offset="0.140" stop-color="rgb(240, 120, 30)"/><stop offset="0.170" stop-color="rgb(225, 150, 40)"/><stop offset="0.200" stop-color="rgb(215, 190, 40)"/><stop offset="0.230" stop-color="rgb(225, 235, 40)"/><stop offset="0.265" stop-color="rgb(230, 255, 30)"/><stop offset="0.300" stop-color="rgb(190, 255, 30)"/><stop offset="0.360" stop-color="rgb(130, 255, 20)"/><stop offset="0.420" stop-color="rgb(80, 255, 10)"/><stop offset="0.490" stop-color="rgb(70, 255, 0)"/><stop offset="0.550" stop-color="rgb(80, 250, 60)"/><stop offset="0.610" stop-color="rgb(110, 255, 160)"/><stop offset="0.660" stop-color="rgb(120, 255, 210)"/><stop offset="0.730" stop-color="rgb(110, 255, 255)"/><stop offset="0.780" stop-color="rgb(90, 220, 255)"/><stop offset="0.820" stop-color="rgb(70, 170, 255)"/><stop offset="0.860" stop-color="rgb(60, 120, 255)"/><stop offset="0.900" stop-color="rgb(40, 60, 255)"/><stop offset="0.980" stop-color="rgb(24, 8, 252)"/><stop offset="1.000" stop-color="rgb(22, 4, 252)"/></linearGradient></defs>
<rect x="366" y="177.9" width="21.9" height="158.7" fill="url(#cb)"/>
<text x="366.2" y="186.6" font-size="11" fill="#fff">0.22</text>
<text x="376.8" y="332.6" font-size="11.2" fill="#fff" text-anchor="middle">0</text>
<defs>
<radialGradient id="gRed" cx="0.38" cy="0.35" r="0.7">
 <stop offset="0" stop-color="#ff7a6e"/><stop offset="0.35" stop-color="#e01818"/><stop offset="0.8" stop-color="#b00000"/><stop offset="1" stop-color="#7a0000"/></radialGradient>
<radialGradient id="gYel" cx="0.38" cy="0.35" r="0.7">
 <stop offset="0" stop-color="#f6f86a"/><stop offset="0.35" stop-color="#efd61e"/><stop offset="0.8" stop-color="#d2a408"/><stop offset="1" stop-color="#9a7000"/></radialGradient>
<radialGradient id="gGray" cx="0.38" cy="0.35" r="0.7">
 <stop offset="0" stop-color="#c8c8c8"/><stop offset="0.35" stop-color="#8e8e8e"/><stop offset="0.8" stop-color="#5e5e5e"/><stop offset="1" stop-color="#3c3c3c"/></radialGradient>
<radialGradient id="gMint" cx="0.45" cy="0.4" r="0.6">
 <stop offset="0" stop-color="#bff7e0"/><stop offset="0.6" stop-color="#5fe0b0"/><stop offset="1" stop-color="#3cc895"/></radialGradient>
<radialGradient id="gMintF" cx="0.45" cy="0.4" r="0.6">
 <stop offset="0" stop-color="#e6fbf2"/><stop offset="0.6" stop-color="#bfeedd"/><stop offset="1" stop-color="#aee6d2"/></radialGradient>
<radialGradient id="gOr" cx="0.4" cy="0.4" r="0.6">
 <stop offset="0" stop-color="#ffd0a0"/><stop offset="0.6" stop-color="#f08a3a"/><stop offset="1" stop-color="#d06a20"/></radialGradient>
<radialGradient id="gOrF" cx="0.4" cy="0.4" r="0.6">
 <stop offset="0" stop-color="#fff4ea"/><stop offset="0.6" stop-color="#f6dcc6"/><stop offset="1" stop-color="#ecc9ae"/></radialGradient>
<linearGradient id="gArrow" x1="0" y1="0" x2="0" y2="1"><stop offset="0" stop-color="#d8d8da"/><stop offset="1" stop-color="#c4c0c8"/></linearGradient>
<clipPath id="clipL"><rect x="412.2" y="181.4" width="77.6" height="29.2"/></clipPath>
<clipPath id="clipR"><rect x="519.3" y="180.4" width="78.5" height="29.7"/></clipPath>
</defs>
<g clip-path="url(#clipL)">
<circle cx="434.7" cy="186.0" r="4.8" fill="url(#gMintF)"/>
<circle cx="466.9" cy="186.0" r="4.8" fill="url(#gMintF)"/>
<path d="M386.4,193.3 L402.5,188.5 L418.6,193.3 L434.7,188.5 L450.8,193.3 L466.9,188.5 L483.0,193.3 L499.1,188.5 L499.1,203.1 L483.0,207.7 L466.9,203.1 L450.8,207.7 L434.7,203.1 L418.6,207.7 L402.5,203.1 L386.4,207.7Z" fill="#dcb6e6"/>
<path d="M386.4,193.3 L402.5,203.1 M402.5,188.5 L386.4,207.7 M386.4,193.3 L386.4,207.7 M402.5,188.5 L418.6,207.7 M418.6,193.3 L402.5,203.1 M402.5,188.5 L402.5,203.1 M418.6,193.3 L434.7,203.1 M434.7,188.5 L418.6,207.7 M418.6,193.3 L418.6,207.7 M434.7,188.5 L450.8,207.7 M450.8,193.3 L434.7,203.1 M434.7,188.5 L434.7,203.1 M450.8,193.3 L466.9,203.1 M466.9,188.5 L450.8,207.7 M450.8,193.3 L450.8,207.7 M466.9,188.5 L483.0,207.7 M483.0,193.3 L466.9,203.1 M466.9,188.5 L466.9,203.1 M483.0,193.3 L499.1,203.1 M499.1,188.5 L483.0,207.7 M483.0,193.3 L483.0,207.7" stroke="rgba(255,255,255,0.28)" stroke-width="0.6" fill="none"/>
<circle cx="386.4" cy="193.3" r="1.9" fill="url(#gOrF)"/>
<circle cx="402.5" cy="188.5" r="1.9" fill="url(#gOrF)"/>
<circle cx="418.6" cy="193.3" r="1.9" fill="url(#gOrF)"/>
<circle cx="434.7" cy="188.5" r="1.9" fill="url(#gOrF)"/>
<circle cx="450.8" cy="193.3" r="1.9" fill="url(#gOrF)"/>
<circle cx="466.9" cy="188.5" r="1.9" fill="url(#gOrF)"/>
<circle cx="483.0" cy="193.3" r="1.9" fill="url(#gOrF)"/>
<circle cx="499.1" cy="188.5" r="1.9" fill="url(#gOrF)"/>
<circle cx="386.4" cy="207.7" r="1.9" fill="url(#gOrF)"/>
<circle cx="402.5" cy="203.1" r="1.9" fill="url(#gOrF)"/>
<circle cx="418.6" cy="207.7" r="1.9" fill="url(#gOrF)"/>
<circle cx="434.7" cy="203.1" r="1.9" fill="url(#gOrF)"/>
<circle cx="450.8" cy="207.7" r="1.9" fill="url(#gOrF)"/>
<circle cx="466.9" cy="203.1" r="1.9" fill="url(#gOrF)"/>
<circle cx="483.0" cy="207.7" r="1.9" fill="url(#gOrF)"/>
<circle cx="499.1" cy="203.1" r="1.9" fill="url(#gOrF)"/>
</g>
<rect x="412.2" y="181.4" width="77.6" height="29.2" fill="none" stroke="#555" stroke-width="0.9"/>
<path d="M446.3,183.4 H455.5 V200.1 H460.3 L450.7,210.1 L441.1,200.1 H446.3 Z" fill="url(#gArrow)" stroke="#333" stroke-width="0.9" stroke-linejoin="miter"/>
<path d="M445.6,188.6 L455.3,197.4 M455.3,188.6 L445.6,197.4" stroke="#f01414" stroke-width="1.9" stroke-linecap="butt"/>
<g clip-path="url(#clipR)">
<circle cx="542.2" cy="186.0" r="5.3" fill="url(#gMint)"/>
<circle cx="574.6" cy="186.0" r="5.3" fill="url(#gMint)"/>
<path d="M493.6,193.0 L509.8,188.5 L526.0,193.0 L542.2,188.5 L558.4,193.0 L574.6,188.5 L590.8,193.0 L607.0,188.5 L607.0,202.6 L590.8,207.3 L574.6,202.6 L558.4,207.3 L542.2,202.6 L526.0,207.3 L509.8,202.6 L493.6,207.3Z" fill="#96239f"/>
<path d="M493.6,193.0 L509.8,202.6 M509.8,188.5 L493.6,207.3 M493.6,193.0 L493.6,207.3 M509.8,188.5 L526.0,207.3 M526.0,193.0 L509.8,202.6 M509.8,188.5 L509.8,202.6 M526.0,193.0 L542.2,202.6 M542.2,188.5 L526.0,207.3 M526.0,193.0 L526.0,207.3 M542.2,188.5 L558.4,207.3 M558.4,193.0 L542.2,202.6 M542.2,188.5 L542.2,202.6 M558.4,193.0 L574.6,202.6 M574.6,188.5 L558.4,207.3 M558.4,193.0 L558.4,207.3 M574.6,188.5 L590.8,207.3 M590.8,193.0 L574.6,202.6 M574.6,188.5 L574.6,202.6 M590.8,193.0 L607.0,202.6 M607.0,188.5 L590.8,207.3 M590.8,193.0 L590.8,207.3" stroke="rgba(255,180,255,0.35)" stroke-width="0.6" fill="none"/>
<circle cx="493.6" cy="193.0" r="2.1" fill="url(#gOr)"/>
<circle cx="509.8" cy="188.5" r="2.1" fill="url(#gOr)"/>
<circle cx="526.0" cy="193.0" r="2.1" fill="url(#gOr)"/>
<circle cx="542.2" cy="188.5" r="2.1" fill="url(#gOr)"/>
<circle cx="558.4" cy="193.0" r="2.1" fill="url(#gOr)"/>
<circle cx="574.6" cy="188.5" r="2.1" fill="url(#gOr)"/>
<circle cx="590.8" cy="193.0" r="2.1" fill="url(#gOr)"/>
<circle cx="607.0" cy="188.5" r="2.1" fill="url(#gOr)"/>
<circle cx="493.6" cy="207.3" r="2.1" fill="url(#gOr)"/>
<circle cx="509.8" cy="202.6" r="2.1" fill="url(#gOr)"/>
<circle cx="526.0" cy="207.3" r="2.1" fill="url(#gOr)"/>
<circle cx="542.2" cy="202.6" r="2.1" fill="url(#gOr)"/>
<circle cx="558.4" cy="207.3" r="2.1" fill="url(#gOr)"/>
<circle cx="574.6" cy="202.6" r="2.1" fill="url(#gOr)"/>
<circle cx="590.8" cy="207.3" r="2.1" fill="url(#gOr)"/>
<circle cx="607.0" cy="202.6" r="2.1" fill="url(#gOr)"/>
</g>
<rect x="519.3" y="180.4" width="78.5" height="29.7" fill="none" stroke="#555" stroke-width="0.9"/>
<path d="M553.4,182.5 H562.7 V199.4 H567.8 L558,208.5 L548.5,199.4 H553.4 Z" fill="rgba(196,196,200,0.72)" stroke="#333" stroke-width="0.9"/>
<path d="M420.9,224.3 V290.9 H488 M420.9,290.9 L400.7,311.2" stroke="#262626" stroke-width="1.3" stroke-dasharray="3.2,2.4" fill="none"/>
<path d="M420.9,224.3 H488 V290.9" stroke="#262626" stroke-width="1.3" fill="none"/>
<path d="M400.7,244.5 H468 V311.2 H400.7 Z M400.7,244.5 L420.9,224.3 M468,244.5 L488,224.3 M468,311.2 L488,290.9" stroke="#262626" stroke-width="1.3" fill="none"/>
<circle cx="400.6" cy="242.6" r="6.3" fill="none" stroke="#111" stroke-width="1.15" stroke-dasharray="0.01,2.2" stroke-linecap="round"/>
<circle cx="469.0" cy="244.0" r="6.3" fill="none" stroke="#111" stroke-width="1.15" stroke-dasharray="0.01,2.2" stroke-linecap="round"/>
<circle cx="398.8" cy="310.0" r="6.3" fill="none" stroke="#111" stroke-width="1.15" stroke-dasharray="0.01,2.2" stroke-linecap="round"/>
<circle cx="468.5" cy="311.2" r="6.3" fill="none" stroke="#111" stroke-width="1.15" stroke-dasharray="0.01,2.2" stroke-linecap="round"/>
<circle cx="421.6" cy="223.8" r="6.3" fill="none" stroke="#111" stroke-width="1.15" stroke-dasharray="0.01,2.2" stroke-linecap="round"/>
<circle cx="487.9" cy="223.6" r="6.3" fill="none" stroke="#111" stroke-width="1.15" stroke-dasharray="0.01,2.2" stroke-linecap="round"/>
<circle cx="420.3" cy="288.6" r="6.3" fill="none" stroke="#111" stroke-width="1.15" stroke-dasharray="0.01,2.2" stroke-linecap="round"/>
<circle cx="487.8" cy="289.4" r="6.3" fill="none" stroke="#111" stroke-width="1.15" stroke-dasharray="0.01,2.2" stroke-linecap="round"/>
<circle cx="420.6" cy="226.6" r="5.4" fill="url(#gRed)"/>
<circle cx="483.4" cy="222.1" r="5.4" fill="url(#gRed)"/>
<circle cx="419.6" cy="293.7" r="5.4" fill="url(#gRed)"/>
<circle cx="488.4" cy="294.2" r="5.4" fill="url(#gRed)"/>
<path d="M444.2,233.6 L444.0,300.0 M410.1,267.4 L477.4,266.6 M434.1,277.0 L454.5,258.4" stroke="#cfcfcf" stroke-width="1.6" fill="none"/>
<path d="M444.2,233.6 L454.5,258.4 M444.0,300.0 L454.5,258.4 M410.1,267.4 L454.5,258.4 L477.4,266.6" stroke="#2a2a2a" stroke-width="0.9" fill="none"/>
<circle cx="446.1" cy="267.0" r="9.3" fill="none" stroke="#111" stroke-width="1.1" stroke-dasharray="0.01,2.2" stroke-linecap="round"/>
<circle cx="436.9" cy="267.0" r="9.2" fill="url(#gGray)"/>
<circle cx="454.5" cy="258.4" r="5.2" fill="url(#gYel)"/>
<path d="M444.2,233.6 L410.1,267.4 L444.0,300.0 L477.4,266.6 Z M444.2,233.6 L434.1,277.0 L444.0,300.0 M410.1,267.4 L434.1,277.0 L477.4,266.6" stroke="#2a2a2a" stroke-width="0.9" fill="none"/>
<circle cx="444.2" cy="233.6" r="5.2" fill="url(#gYel)"/>
<circle cx="444.0" cy="300.0" r="5.2" fill="url(#gYel)"/>
<circle cx="410.1" cy="267.4" r="5.2" fill="url(#gYel)"/>
<circle cx="477.4" cy="266.6" r="5.2" fill="url(#gYel)"/>
<circle cx="434.1" cy="277.0" r="5.2" fill="url(#gYel)"/>
<circle cx="405.2" cy="243.5" r="5.4" fill="url(#gRed)"/>
<circle cx="466.7" cy="240.1" r="5.4" fill="url(#gRed)"/>
<circle cx="404.5" cy="312.2" r="5.4" fill="url(#gRed)"/>
<circle cx="464.3" cy="310.1" r="5.4" fill="url(#gRed)"/>
<path d="M526.7,224.3 V290.4 H593.5 M526.7,290.4 L506.5,310.4" stroke="#262626" stroke-width="1.3" stroke-dasharray="3.2,2.4" fill="none"/>
<path d="M526.7,224.3 H593.5 V290.4" stroke="#262626" stroke-width="1.3" fill="none"/>
<path d="M506.5,244.4 H573.5 V310.4 H506.5 Z M506.5,244.4 L526.7,224.3 M573.5,244.4 L593.5,224.3 M573.5,310.4 L593.5,290.4" stroke="#262626" stroke-width="1.3" fill="none"/>
<circle cx="526.7" cy="223.3" r="5.4" fill="url(#gRed)"/>
<circle cx="593.5" cy="222.4" r="5.4" fill="url(#gRed)"/>
<circle cx="527.1" cy="289.2" r="5.4" fill="url(#gRed)"/>
<circle cx="592.6" cy="289.2" r="5.4" fill="url(#gRed)"/>
<path d="M550.1,234.2 L550.1,299.5 M516.6,266.6 L583.0,266.6 M539.6,277.0 L560.0,256.8" stroke="#cfcfcf" stroke-width="1.6" fill="none"/>
<path d="M550.1,234.2 L560.0,256.8 M550.1,299.5 L560.0,256.8 M516.6,266.6 L560.0,256.8 L583.0,266.6" stroke="#2a2a2a" stroke-width="0.9" fill="none"/>
<circle cx="549.5" cy="266.6" r="9.5" fill="url(#gGray)"/>
<circle cx="560.0" cy="256.8" r="5.2" fill="url(#gYel)"/>
<path d="M550.1,234.2 L516.6,266.6 L550.1,299.5 L583.0,266.6 Z M550.1,234.2 L539.6,277.0 L550.1,299.5 M516.6,266.6 L539.6,277.0 L583.0,266.6" stroke="#2a2a2a" stroke-width="0.9" fill="none"/>
<circle cx="550.1" cy="234.2" r="5.2" fill="url(#gYel)"/>
<circle cx="550.1" cy="299.5" r="5.2" fill="url(#gYel)"/>
<circle cx="516.6" cy="266.6" r="5.2" fill="url(#gYel)"/>
<circle cx="583.0" cy="266.6" r="5.2" fill="url(#gYel)"/>
<circle cx="539.6" cy="277.0" r="5.2" fill="url(#gYel)"/>
<circle cx="506.3" cy="243.5" r="5.4" fill="url(#gRed)"/>
<circle cx="573.3" cy="243.5" r="5.4" fill="url(#gRed)"/>
<circle cx="506.2" cy="309.8" r="5.4" fill="url(#gRed)"/>
<circle cx="573.2" cy="309.8" r="5.4" fill="url(#gRed)"/>
<circle cx="629.5" cy="205.4" r="5.4" fill="url(#gRed)"/>
<text x="637.1" y="209.6" font-size="11.2" fill="#111">FA<tspan font-size="7.5" dy="-4.5">+</tspan></text>
<circle cx="629.8" cy="236.5" r="6.5" fill="url(#gGray)"/>
<text x="638.6" y="240.8" font-size="11.2" fill="#111">Pb<tspan font-size="7.5" dy="-4.5">2+</tspan></text>
<circle cx="630.9" cy="275.3" r="4.9" fill="url(#gYel)"/>
<text x="640.6" y="279.6" font-size="11.2" fill="#111">I<tspan font-size="7.5" dy="-4.5">-</tspan></text>
<defs><clipPath id="clipI"><rect x="601.5" y="303" width="30.5" height="17"/></clipPath></defs>
<g clip-path="url(#clipI)">
<circle cx="607.4" cy="307.5" r="3.1" fill="url(#gMint)"/><circle cx="625.4" cy="307.5" r="3.1" fill="url(#gMint)"/>
<path d="M598,311 L607.4,309 L616.4,311.5 L625.4,309 L634.5,311 L634.5,318.2 L625.4,316.2 L616.4,318.8 L607.4,316.2 L598,318.2 Z" fill="#96239f"/>
<circle cx="607.4" cy="309" r="1.2" fill="url(#gOr)"/>
<circle cx="616.4" cy="311.5" r="1.2" fill="url(#gOr)"/>
<circle cx="625.4" cy="309" r="1.2" fill="url(#gOr)"/>
<circle cx="607.4" cy="316.2" r="1.2" fill="url(#gOr)"/>
<circle cx="616.4" cy="318.8" r="1.2" fill="url(#gOr)"/>
<circle cx="625.4" cy="316.2" r="1.2" fill="url(#gOr)"/>
</g>
<text x="633.6" y="317.1" font-size="11.2" fill="#111">CsMnBr<tspan font-size="8" dy="3">3</tspan></text>
<text x="420.1" y="343.2" font-size="10.8" fill="#111">Energy barrier</text>
<text x="540.6" y="341.2" font-size="10.9" fill="#111">1.514 eV</text>
<path d="M462.0,358.52 L463.0,358.47 L464.0,358.41 L465.0,358.36 L466.0,358.29 L467.0,358.23 L468.0,358.16 L469.0,358.09 L470.0,358.01 L471.0,357.93 L472.0,357.85 L473.0,357.77 L474.0,357.68 L475.0,357.59 L476.0,357.49 L477.0,357.39 L478.0,357.29 L479.0,357.18 L480.0,357.07 L481.0,356.96 L482.0,356.84 L483.0,356.72 L484.0,356.59 L485.0,356.46 L486.0,356.33 L487.0,356.20 L488.0,356.06 L489.0,355.92 L490.0,355.77 L491.0,355.63 L492.0,355.48 L493.0,355.33 L494.0,355.17 L495.0,355.02 L496.0,354.86 L497.0,354.70 L498.0,354.54 L499.0,354.38 L500.0,354.21 L501.0,354.05 L502.0,353.89 L503.0,353.72 L504.0,353.56 L505.0,353.40 L506.0,353.23 L507.0,353.07 L508.0,352.92 L509.0,352.76 L510.0,352.60 L511.0,352.45 L512.0,352.30 L513.0,352.16 L514.0,352.02 L515.0,351.88 L516.0,351.75 L517.0,351.62 L518.0,351.49 L519.0,351.38 L520.0,351.26 L521.0,351.16 L522.0,351.05 L523.0,350.96 L524.0,350.87 L525.0,350.79 L526.0,350.72 L527.0,350.65 L528.0,350.59 L529.0,350.54 L530.0,350.50 L531.0,350.46 L532.0,350.43 L533.0,350.41 L534.0,350.40 L535.0,350.40 L536.0,350.40 L537.0,350.42 L538.0,350.44 L539.0,350.47 L540.0,350.51 L541.0,350.55 L542.0,350.60 L543.0,350.66 L544.0,350.73 L545.0,350.81 L546.0,350.89 L547.0,350.98 L548.0,351.07 L549.0,351.18 L550.0,351.28 L551.0,351.40 L552.0,351.52 L553.0,351.64 L554.0,351.77 L555.0,351.91 L556.0,352.05 L557.0,352.19 L558.0,352.33 L559.0,352.48 L560.0,352.64 L561.0,352.79 L562.0,352.95 L563.0,353.11 L564.0,353.27 L565.0,353.43 L566.0,353.59 L567.0,353.75 L568.0,353.92 L569.0,354.08 L570.0,354.24 L571.0,354.41 L572.0,354.57 L573.0,354.73 L574.0,354.89 L575.0,355.05 L576.0,355.20 L577.0,355.36 L578.0,355.51 L579.0,355.66 L580.0,355.80 L581.0,355.95 L582.0,356.09 L583.0,356.22 L584.0,356.36 L585.0,356.49 L586.0,356.62 L587.0,356.74 L588.0,356.86 L589.0,356.98 L590.0,357.09 L591.0,357.20 L592.0,357.31 L593.0,357.41 L594.0,357.51 L595.0,357.61 L596.0,357.70 L597.0,357.78 L598.0,357.87 L599.0,357.95 L600.0,358.03 L601.0,358.10 L602.0,358.17 L603.0,358.24 L604.0,358.31 L605.0,358.37 L606.0,358.43 L607.0,358.48 L608.0,358.53 L609.0,358.58" stroke="#6a9bd8" stroke-width="2.2" fill="none" stroke-dasharray="6.8,2.6"/>
<path d="M401.7,359.30 L402.7,359.30 L403.7,359.30 L404.7,359.30 L405.7,359.30 L406.7,359.30 L407.7,359.30 L408.7,359.30 L409.7,359.30 L410.7,359.30 L411.7,359.30 L412.7,359.30 L413.7,359.30 L414.7,359.30 L415.7,359.30 L416.7,359.30 L417.7,359.30 L418.7,359.30 L419.7,359.30 L420.7,359.30 L421.7,359.30 L422.7,359.30 L423.7,359.30 L424.7,359.30 L425.7,359.30 L426.7,359.30 L427.7,359.30 L428.7,359.30 L429.7,359.30 L430.7,359.30 L431.7,359.29 L432.7,359.29 L433.7,359.29 L434.7,359.29 L435.7,359.29 L436.7,359.29 L437.7,359.29 L438.7,359.28 L439.7,359.28 L440.7,359.28 L441.7,359.27 L442.7,359.27 L443.7,359.26 L444.7,359.26 L445.7,359.25 L446.7,359.24 L447.7,359.23 L448.7,359.22 L449.7,359.21 L450.7,359.20 L451.7,359.18 L452.7,359.17 L453.7,359.15 L454.7,359.12 L455.7,359.10 L456.7,359.07 L457.7,359.04 L458.7,359.00 L459.7,358.96 L460.7,358.92 L461.7,358.87 L462.7,358.81 L463.7,358.75 L464.7,358.68 L465.7,358.61 L466.7,358.52 L467.7,358.43 L468.7,358.33 L469.7,358.21 L470.7,358.09 L471.7,357.95 L472.7,357.81 L473.7,357.64 L474.7,357.47 L475.7,357.28 L476.7,357.07 L477.7,356.84 L478.7,356.60 L479.7,356.34 L480.7,356.05 L481.7,355.75 L482.7,355.42 L483.7,355.08 L484.7,354.70 L485.7,354.31 L486.7,353.89 L487.7,353.44 L488.7,352.96 L489.7,352.46 L490.7,351.93 L491.7,351.38 L492.7,350.79 L493.7,350.18 L494.7,349.54 L495.7,348.87 L496.7,348.18 L497.7,347.46 L498.7,346.71 L499.7,345.94 L500.7,345.15 L501.7,344.33 L502.7,343.49 L503.7,342.63 L504.7,341.76 L505.7,340.87 L506.7,339.96 L507.7,339.05 L508.7,338.13 L509.7,337.20 L510.7,336.28 L511.7,335.35 L512.7,334.43 L513.7,333.51 L514.7,332.61 L515.7,331.72 L516.7,330.84 L517.7,329.99 L518.7,329.16 L519.7,328.37 L520.7,327.60 L521.7,326.87 L522.7,326.17 L523.7,325.52 L524.7,324.91 L525.7,324.35 L526.7,323.84 L527.7,323.38 L528.7,322.98 L529.7,322.64 L530.7,322.35 L531.7,322.12 L532.7,321.95 L533.7,321.84 L534.7,321.80 L535.7,321.82 L536.7,321.90 L537.7,322.04 L538.7,322.25 L539.7,322.51 L540.7,322.84 L541.7,323.22 L542.7,323.65 L543.7,324.14 L544.7,324.68 L545.7,325.27 L546.7,325.91 L547.7,326.58 L548.7,327.30 L549.7,328.05 L550.7,328.84 L551.7,329.66 L552.7,330.50 L553.7,331.36 L554.7,332.25 L555.7,333.15 L556.7,334.06 L557.7,334.98 L558.7,335.91 L559.7,336.83 L560.7,337.76 L561.7,338.68 L562.7,339.60 L563.7,340.51 L564.7,341.40 L565.7,342.28 L566.7,343.15 L567.7,343.99 L568.7,344.82 L569.7,345.63 L570.7,346.41 L571.7,347.16 L572.7,347.89 L573.7,348.60 L574.7,349.28 L575.7,349.93 L576.7,350.55 L577.7,351.15 L578.7,351.71 L579.7,352.25 L580.7,352.77 L581.7,353.25 L582.7,353.71 L583.7,354.14 L584.7,354.55 L585.7,354.93 L586.7,355.29 L587.7,355.62 L588.7,355.94 L589.7,356.23 L590.7,356.50 L591.7,356.75 L592.7,356.98 L593.7,357.19 L594.7,357.39 L595.7,357.58 L596.7,357.74 L597.7,357.90 L598.7,358.04 L599.7,358.17 L600.7,358.28 L601.7,358.39 L602.7,358.49 L603.7,358.57 L604.7,358.65 L605.7,358.72 L606.7,358.79 L607.7,358.85 L608.7,358.90 L609.7,358.95 L610.7,358.99 L611.7,359.02 L612.7,359.06 L613.7,359.09 L614.7,359.11 L615.7,359.14 L616.7,359.16 L617.7,359.18 L618.7,359.19 L619.7,359.21 L620.7,359.22 L621.7,359.23 L622.7,359.24 L623.7,359.25 L624.7,359.25 L625.7,359.26 L626.7,359.27 L627.7,359.27 L628.7,359.28 L629.7,359.28 L630.7,359.28 L631.7,359.28 L632.7,359.29 L633.7,359.29 L634.7,359.29 L635.7,359.29 L636.7,359.29 L637.7,359.29 L638.7,359.30 L639.7,359.30 L640.7,359.30 L641.7,359.30 L642.7,359.30 L643.7,359.30 L644.7,359.30 L645.7,359.30 L646.7,359.30 L647.7,359.30 L648.7,359.30 L649.7,359.30 L650.7,359.30 L651.7,359.30 L652.7,359.30 L653.7,359.30 L654.7,359.30 L655.7,359.30 L656.7,359.30 L657.7,359.30 L658.7,359.30 L659.7,359.30 L660.7,359.30 L661.7,359.30 L662.7,359.30 L663.7,359.30" stroke="#e4402a" stroke-width="2.3" fill="none"/>
<path d="M534.5,326 V345.6" stroke="#111" stroke-width="0.9" stroke-dasharray="1.8,1.2"/>
<path d="M532.6,327.2 L534.5,323.2 L536.4,327.2 Z M532.6,344.4 L534.5,348.4 L536.4,344.4 Z" fill="#111"/>
<text x="395.0" y="189.2" font-size="15.5" fill="#111">e</text>
</svg></body></html>
